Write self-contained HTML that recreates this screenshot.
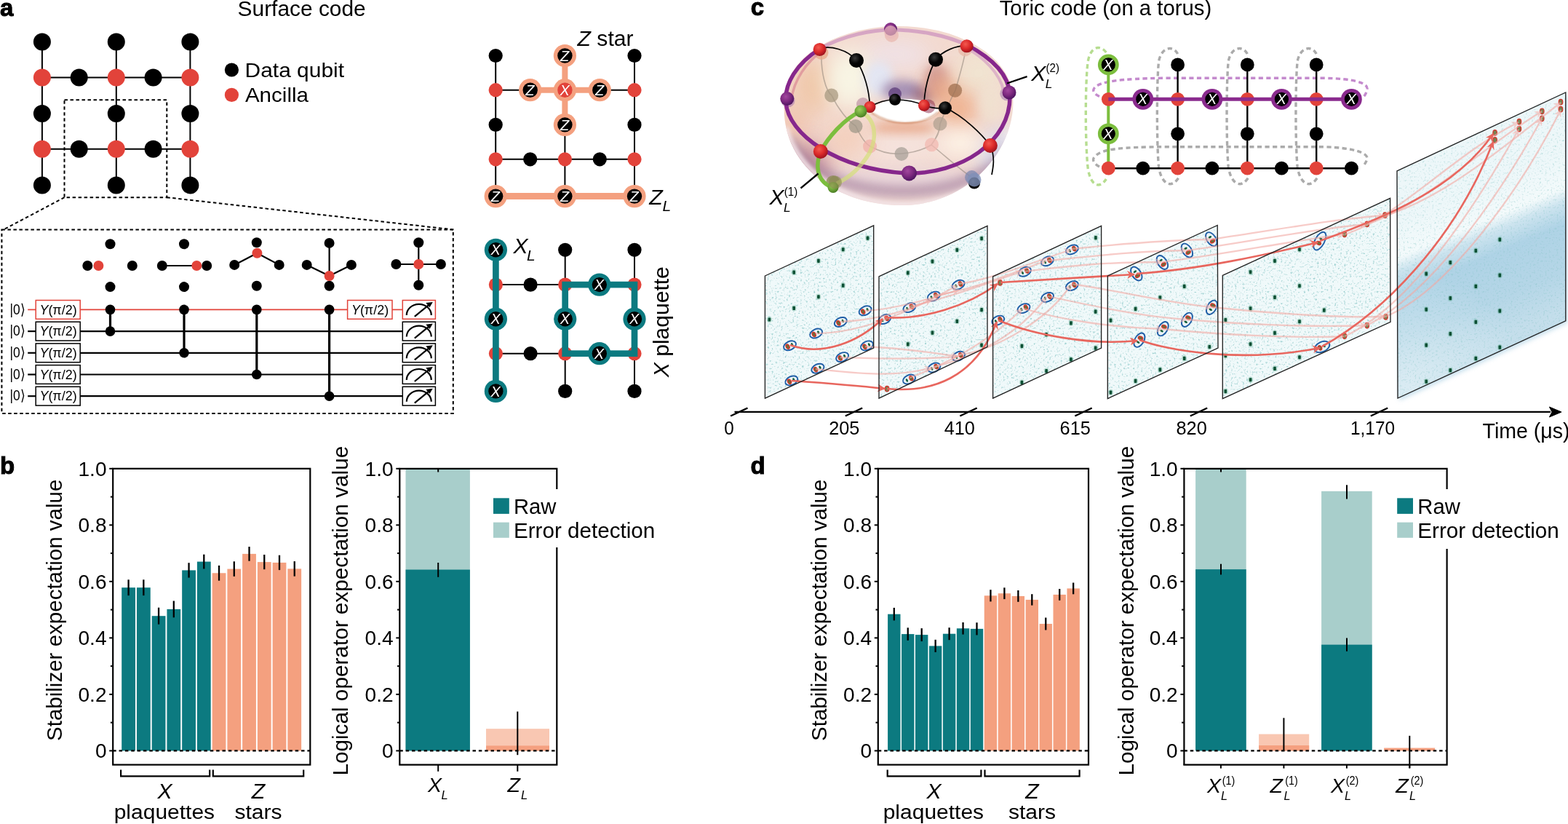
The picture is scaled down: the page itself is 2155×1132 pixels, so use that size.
<!DOCTYPE html>
<html><head><meta charset="utf-8"><title>Surface code and toric code</title>
<style>
html,body{margin:0;padding:0;background:#fff;width:2155px;height:1132px;overflow:hidden;}
svg{display:block;}
text{font-family:"Liberation Sans", Arial, Helvetica, sans-serif;}
</style></head><body>
<svg width="2155" height="1132" viewBox="0 0 2155 1132">
<rect width="2155" height="1132" fill="#fff"/>
<text x="0" y="21.5" font-size="33" font-weight="bold" stroke="#000" stroke-width="1">a</text>
<text x="326.6" y="21.8" font-size="29" textLength="176.1" lengthAdjust="spacingAndGlyphs" >Surface code</text>
<line x1="57.9" y1="57.6" x2="57.9" y2="254.4" stroke="#000" stroke-width="2" />
<line x1="159.8" y1="57.6" x2="159.8" y2="254.4" stroke="#000" stroke-width="2" />
<line x1="261.4" y1="57.6" x2="261.4" y2="254.4" stroke="#000" stroke-width="2" />
<line x1="57.9" y1="106.5" x2="261.4" y2="106.5" stroke="#000" stroke-width="2" />
<line x1="57.9" y1="204.7" x2="261.4" y2="204.7" stroke="#000" stroke-width="2" />
<circle cx="57.9" cy="57.6" r="12" fill="#000" />
<circle cx="159.8" cy="57.6" r="12" fill="#000" />
<circle cx="261.4" cy="57.6" r="12" fill="#000" />
<circle cx="57.9" cy="106.5" r="12" fill="#E2433A" />
<circle cx="108.7" cy="106.5" r="12" fill="#000" />
<circle cx="159.8" cy="106.5" r="12" fill="#E2433A" />
<circle cx="210.6" cy="106.5" r="12" fill="#000" />
<circle cx="261.4" cy="106.5" r="12" fill="#E2433A" />
<circle cx="57.9" cy="156.1" r="12" fill="#000" />
<circle cx="159.8" cy="156.1" r="12" fill="#000" />
<circle cx="261.4" cy="156.1" r="12" fill="#000" />
<circle cx="57.9" cy="204.7" r="12" fill="#E2433A" />
<circle cx="108.7" cy="204.7" r="12" fill="#000" />
<circle cx="159.8" cy="204.7" r="12" fill="#E2433A" />
<circle cx="210.6" cy="204.7" r="12" fill="#000" />
<circle cx="261.4" cy="204.7" r="12" fill="#E2433A" />
<circle cx="57.9" cy="254.4" r="12" fill="#000" />
<circle cx="159.8" cy="254.4" r="12" fill="#000" />
<circle cx="261.4" cy="254.4" r="12" fill="#000" />
<circle cx="318.4" cy="96" r="9.6" fill="#000" />
<text x="336.6" y="105.5" font-size="28.5" textLength="136.4" lengthAdjust="spacingAndGlyphs" >Data qubit</text>
<circle cx="318.4" cy="130.4" r="9.6" fill="#E2433A" />
<text x="336.9" y="139.7" font-size="28.5" textLength="87.1" lengthAdjust="spacingAndGlyphs" >Ancilla</text>
<rect x="88.5" y="137.2" width="140.8" height="134" fill="none" stroke="#000" stroke-width="2" stroke-dasharray="4.5 3.5"/>
<line x1="88.5" y1="271.2" x2="5" y2="315.4" stroke="#000" stroke-width="2" stroke-dasharray="4.5 3.5"/>
<line x1="229.3" y1="271.2" x2="622.8" y2="315.4" stroke="#000" stroke-width="2" stroke-dasharray="4.5 3.5"/>
<rect x="2.4" y="315.4" width="620.4" height="252.5" fill="none" stroke="#000" stroke-width="2" stroke-dasharray="4.5 3.5"/>
<text x="13.6" y="431.6" font-size="20" textLength="21.2" lengthAdjust="spacingAndGlyphs" >|0⟩</text>
<line x1="38.2" y1="425.4" x2="49.2" y2="425.4" stroke="#E2433A" stroke-width="1.7" />
<rect x="49.2" y="412.5" width="61" height="25.8" fill="#fff" stroke="#E2433A" stroke-width="1.5"/>
<text x="54.4" y="431.5" font-size="19" textLength="51.3" lengthAdjust="spacingAndGlyphs"><tspan font-style="italic">Y</tspan>(π/2)</text>
<line x1="110.2" y1="425.4" x2="477.6" y2="425.4" stroke="#E2433A" stroke-width="1.7" />
<rect x="477.6" y="412.5" width="61.4" height="25.8" fill="#fff" stroke="#E2433A" stroke-width="1.5"/>
<text x="482.9" y="431.5" font-size="19" textLength="51.3" lengthAdjust="spacingAndGlyphs"><tspan font-style="italic">Y</tspan>(π/2)</text>
<line x1="539" y1="425.4" x2="553.3" y2="425.4" stroke="#E2433A" stroke-width="1.7" />
<rect x="553.3" y="412.5" width="45.1" height="25.8" fill="#fff" stroke="#E2433A" stroke-width="1.5"/>
<path d="M558.8 432.9 A17 15 0 0 1 592.8 432.9" fill="none" stroke="#000" stroke-width="2.2"/>
<path d="M569.8 434.9 L591.8 416.9" stroke="#000" stroke-width="2.2"/>
<path d="M594.8 414.9 l-9.5 1.2 l5.2 6.2 z" fill="#000"/>
<text x="13.6" y="461.3" font-size="20" textLength="21.2" lengthAdjust="spacingAndGlyphs" >|0⟩</text>
<line x1="38.2" y1="455.1" x2="49.2" y2="455.1" stroke="#000" stroke-width="2.2" />
<rect x="49.2" y="442.2" width="61" height="25.8" fill="#fff" stroke="#000" stroke-width="1.5"/>
<text x="54.4" y="461.2" font-size="19" textLength="51.3" lengthAdjust="spacingAndGlyphs"><tspan font-style="italic">Y</tspan>(π/2)</text>
<line x1="110.2" y1="455.1" x2="553.3" y2="455.1" stroke="#000" stroke-width="2.2" />
<rect x="553.3" y="442.2" width="45.1" height="25.8" fill="#fff" stroke="#000" stroke-width="1.5"/>
<path d="M558.8 462.6 A17 15 0 0 1 592.8 462.6" fill="none" stroke="#000" stroke-width="2.2"/>
<path d="M569.8 464.6 L591.8 446.6" stroke="#000" stroke-width="2.2"/>
<path d="M594.8 444.6 l-9.5 1.2 l5.2 6.2 z" fill="#000"/>
<text x="13.6" y="491" font-size="20" textLength="21.2" lengthAdjust="spacingAndGlyphs" >|0⟩</text>
<line x1="38.2" y1="484.8" x2="49.2" y2="484.8" stroke="#000" stroke-width="2.2" />
<rect x="49.2" y="471.9" width="61" height="25.8" fill="#fff" stroke="#000" stroke-width="1.5"/>
<text x="54.4" y="490.9" font-size="19" textLength="51.3" lengthAdjust="spacingAndGlyphs"><tspan font-style="italic">Y</tspan>(π/2)</text>
<line x1="110.2" y1="484.8" x2="553.3" y2="484.8" stroke="#000" stroke-width="2.2" />
<rect x="553.3" y="471.9" width="45.1" height="25.8" fill="#fff" stroke="#000" stroke-width="1.5"/>
<path d="M558.8 492.3 A17 15 0 0 1 592.8 492.3" fill="none" stroke="#000" stroke-width="2.2"/>
<path d="M569.8 494.3 L591.8 476.3" stroke="#000" stroke-width="2.2"/>
<path d="M594.8 474.3 l-9.5 1.2 l5.2 6.2 z" fill="#000"/>
<text x="13.6" y="520.7" font-size="20" textLength="21.2" lengthAdjust="spacingAndGlyphs" >|0⟩</text>
<line x1="38.2" y1="514.5" x2="49.2" y2="514.5" stroke="#000" stroke-width="2.2" />
<rect x="49.2" y="501.6" width="61" height="25.8" fill="#fff" stroke="#000" stroke-width="1.5"/>
<text x="54.4" y="520.6" font-size="19" textLength="51.3" lengthAdjust="spacingAndGlyphs"><tspan font-style="italic">Y</tspan>(π/2)</text>
<line x1="110.2" y1="514.5" x2="553.3" y2="514.5" stroke="#000" stroke-width="2.2" />
<rect x="553.3" y="501.6" width="45.1" height="25.8" fill="#fff" stroke="#000" stroke-width="1.5"/>
<path d="M558.8 522 A17 15 0 0 1 592.8 522" fill="none" stroke="#000" stroke-width="2.2"/>
<path d="M569.8 524 L591.8 506" stroke="#000" stroke-width="2.2"/>
<path d="M594.8 504 l-9.5 1.2 l5.2 6.2 z" fill="#000"/>
<text x="13.6" y="550.4" font-size="20" textLength="21.2" lengthAdjust="spacingAndGlyphs" >|0⟩</text>
<line x1="38.2" y1="544.2" x2="49.2" y2="544.2" stroke="#000" stroke-width="2.2" />
<rect x="49.2" y="531.3" width="61" height="25.8" fill="#fff" stroke="#000" stroke-width="1.5"/>
<text x="54.4" y="550.3" font-size="19" textLength="51.3" lengthAdjust="spacingAndGlyphs"><tspan font-style="italic">Y</tspan>(π/2)</text>
<line x1="110.2" y1="544.2" x2="553.3" y2="544.2" stroke="#000" stroke-width="2.2" />
<rect x="553.3" y="531.3" width="45.1" height="25.8" fill="#fff" stroke="#000" stroke-width="1.5"/>
<path d="M558.8 551.7 A17 15 0 0 1 592.8 551.7" fill="none" stroke="#000" stroke-width="2.2"/>
<path d="M569.8 553.7 L591.8 535.7" stroke="#000" stroke-width="2.2"/>
<path d="M594.8 533.7 l-9.5 1.2 l5.2 6.2 z" fill="#000"/>
<line x1="151.5" y1="425.4" x2="151.5" y2="455.1" stroke="#000" stroke-width="3.2" />
<circle cx="151.5" cy="425.4" r="6.8" fill="#000" />
<circle cx="151.5" cy="455.1" r="6.8" fill="#000" />
<line x1="253" y1="425.4" x2="253" y2="484.8" stroke="#000" stroke-width="3.2" />
<circle cx="253" cy="425.4" r="6.8" fill="#000" />
<circle cx="253" cy="484.8" r="6.8" fill="#000" />
<line x1="352.8" y1="425.4" x2="352.8" y2="514.5" stroke="#000" stroke-width="3.2" />
<circle cx="352.8" cy="425.4" r="6.8" fill="#000" />
<circle cx="352.8" cy="514.5" r="6.8" fill="#000" />
<line x1="452.6" y1="425.4" x2="452.6" y2="544.2" stroke="#000" stroke-width="3.2" />
<circle cx="452.6" cy="425.4" r="6.8" fill="#000" />
<circle cx="452.6" cy="544.2" r="6.8" fill="#000" />
<circle cx="151.5" cy="335.3" r="7" fill="#000" />
<circle cx="120.3" cy="365" r="7" fill="#000" />
<circle cx="181.8" cy="365" r="7" fill="#000" />
<circle cx="151.5" cy="394.1" r="7" fill="#000" />
<circle cx="135.4" cy="365" r="7" fill="#E2433A" />
<line x1="222.8" y1="365" x2="270.3" y2="365" stroke="#000" stroke-width="2.2" />
<circle cx="253" cy="335.3" r="7" fill="#000" />
<circle cx="222.8" cy="365" r="7" fill="#000" />
<circle cx="284.2" cy="365" r="7" fill="#000" />
<circle cx="253" cy="394.1" r="7" fill="#000" />
<circle cx="270.3" cy="365" r="7" fill="#E2433A" />
<line x1="322.2" y1="363.9" x2="353.4" y2="347.8" stroke="#000" stroke-width="2.2" />
<line x1="383.7" y1="363.9" x2="353.4" y2="347.8" stroke="#000" stroke-width="2.2" />
<circle cx="352.8" cy="333.3" r="7" fill="#000" />
<circle cx="322.2" cy="363.9" r="7" fill="#000" />
<circle cx="383.7" cy="363.9" r="7" fill="#000" />
<circle cx="352.8" cy="392.7" r="7" fill="#000" />
<circle cx="353.4" cy="347.8" r="7" fill="#E2433A" />
<line x1="452.6" y1="333.9" x2="452.6" y2="379" stroke="#000" stroke-width="2.2" />
<line x1="421.7" y1="363.9" x2="452.6" y2="379" stroke="#000" stroke-width="2.2" />
<line x1="482.9" y1="363.9" x2="452.6" y2="379" stroke="#000" stroke-width="2.2" />
<circle cx="452.6" cy="333.9" r="7" fill="#000" />
<circle cx="421.7" cy="363.9" r="7" fill="#000" />
<circle cx="482.9" cy="363.9" r="7" fill="#000" />
<circle cx="452.6" cy="392.7" r="7" fill="#000" />
<circle cx="452.6" cy="379" r="7" fill="#E2433A" />
<line x1="544.4" y1="363" x2="605.9" y2="363" stroke="#000" stroke-width="2.2" />
<line x1="575.3" y1="333.3" x2="575.3" y2="391.8" stroke="#000" stroke-width="2.2" />
<circle cx="575.3" cy="333.3" r="7" fill="#000" />
<circle cx="544.4" cy="363" r="7" fill="#000" />
<circle cx="605.9" cy="363" r="7" fill="#000" />
<circle cx="575.3" cy="391.8" r="7" fill="#000" />
<circle cx="575.3" cy="363" r="7" fill="#E2433A" />
<line x1="681.2" y1="76.5" x2="681.2" y2="269.6" stroke="#000" stroke-width="2" />
<line x1="776.4" y1="76.5" x2="776.4" y2="269.6" stroke="#000" stroke-width="2" />
<line x1="872" y1="76.5" x2="872" y2="269.6" stroke="#000" stroke-width="2" />
<line x1="681.2" y1="123.7" x2="872" y2="123.7" stroke="#000" stroke-width="2" />
<line x1="681.2" y1="218.8" x2="872" y2="218.8" stroke="#000" stroke-width="2" />
<line x1="776.4" y1="76.5" x2="776.4" y2="171.4" stroke="#F4A07F" stroke-width="8" />
<line x1="728.7" y1="123.7" x2="824.3" y2="123.7" stroke="#F4A07F" stroke-width="8" />
<line x1="681.2" y1="269.6" x2="872" y2="269.6" stroke="#F4A07F" stroke-width="9" />
<circle cx="681.2" cy="76.5" r="9.6" fill="#000" />
<circle cx="681.2" cy="123.7" r="9.6" fill="#E2433A" />
<circle cx="681.2" cy="171.4" r="9.6" fill="#000" />
<circle cx="681.2" cy="218.8" r="9.6" fill="#E2433A" />
<circle cx="872" cy="76.5" r="9.6" fill="#000" />
<circle cx="872" cy="123.7" r="9.6" fill="#E2433A" />
<circle cx="872" cy="171.4" r="9.6" fill="#000" />
<circle cx="872" cy="218.8" r="9.6" fill="#E2433A" />
<circle cx="728.7" cy="218.8" r="9.6" fill="#000" />
<circle cx="824.3" cy="218.8" r="9.6" fill="#000" />
<circle cx="776.4" cy="218.8" r="9.6" fill="#E2433A" />
<circle cx="776.4" cy="76.5" r="15.6" fill="#F4A07F" /><circle cx="776.4" cy="76.5" r="10.2" fill="#000" /><text x="776.1" y="83.6" font-size="20" text-anchor="middle" font-style="italic" fill="#fff" font-weight="300">Z</text>
<circle cx="728.7" cy="123.7" r="15.6" fill="#F4A07F" /><circle cx="728.7" cy="123.7" r="10.2" fill="#000" /><text x="728.4" y="130.8" font-size="20" text-anchor="middle" font-style="italic" fill="#fff" font-weight="300">Z</text>
<circle cx="824.3" cy="123.7" r="15.6" fill="#F4A07F" /><circle cx="824.3" cy="123.7" r="10.2" fill="#000" /><text x="824" y="130.8" font-size="20" text-anchor="middle" font-style="italic" fill="#fff" font-weight="300">Z</text>
<circle cx="776.4" cy="171.4" r="15.6" fill="#F4A07F" /><circle cx="776.4" cy="171.4" r="10.2" fill="#000" /><text x="776.1" y="178.5" font-size="20" text-anchor="middle" font-style="italic" fill="#fff" font-weight="300">Z</text>
<circle cx="776.4" cy="123.7" r="15.6" fill="#F4A07F" /><circle cx="776.4" cy="123.7" r="10.2" fill="#E2433A" /><text x="776.1" y="130.8" font-size="20" text-anchor="middle" font-style="italic" fill="#fff" font-weight="300">X</text>
<circle cx="681.2" cy="269.6" r="15.6" fill="#F4A07F" /><circle cx="681.2" cy="269.6" r="10.2" fill="#000" /><text x="680.9" y="276.7" font-size="20" text-anchor="middle" font-style="italic" fill="#fff" font-weight="300">Z</text>
<circle cx="776.4" cy="269.6" r="15.6" fill="#F4A07F" /><circle cx="776.4" cy="269.6" r="10.2" fill="#000" /><text x="776.1" y="276.7" font-size="20" text-anchor="middle" font-style="italic" fill="#fff" font-weight="300">Z</text>
<circle cx="872" cy="269.6" r="15.6" fill="#F4A07F" /><circle cx="872" cy="269.6" r="10.2" fill="#000" /><text x="871.7" y="276.7" font-size="20" text-anchor="middle" font-style="italic" fill="#fff" font-weight="300">Z</text>
<text x="793.6" y="63" font-size="29" textLength="77" lengthAdjust="spacingAndGlyphs"><tspan font-style="italic">Z</tspan> star</text>
<text x="892.3" y="280.6" font-size="30.3" font-style="italic">Z</text>
<text x="910.6" y="290" font-size="21" font-style="italic">L</text>
<line x1="776.7" y1="343.3" x2="776.7" y2="537.4" stroke="#000" stroke-width="2" />
<line x1="872" y1="343.3" x2="872" y2="537.4" stroke="#000" stroke-width="2" />
<line x1="681.4" y1="391.1" x2="872" y2="391.1" stroke="#000" stroke-width="2" />
<line x1="681.4" y1="485.7" x2="872" y2="485.7" stroke="#000" stroke-width="2" />
<circle cx="681.4" cy="391.1" r="9.6" fill="#E2433A" />
<circle cx="681.4" cy="485.7" r="9.6" fill="#E2433A" />
<circle cx="729.1" cy="391.1" r="9.6" fill="#000" />
<circle cx="776.7" cy="391.1" r="9.6" fill="#E2433A" />
<circle cx="872" cy="391.1" r="9.6" fill="#E2433A" />
<circle cx="729.1" cy="485.7" r="9.6" fill="#000" />
<circle cx="776.7" cy="485.7" r="9.6" fill="#E2433A" />
<circle cx="872" cy="485.7" r="9.6" fill="#E2433A" />
<circle cx="776.7" cy="343.3" r="9.6" fill="#000" />
<circle cx="872" cy="343.3" r="9.6" fill="#000" />
<circle cx="776.7" cy="537.4" r="9.6" fill="#000" />
<circle cx="872" cy="537.4" r="9.6" fill="#000" />
<line x1="681.4" y1="343.3" x2="681.4" y2="537.4" stroke="#0C7A80" stroke-width="8.7" />
<rect x="776.7" y="391.1" width="95.3" height="94.6" fill="none" stroke="#0C7A80" stroke-width="8.7"/>
<circle cx="681.4" cy="343.3" r="15.6" fill="#0C7A80" /><circle cx="681.4" cy="343.3" r="10.2" fill="#000" /><text x="681.1" y="350.4" font-size="20" text-anchor="middle" font-style="italic" fill="#fff" font-weight="300">X</text>
<circle cx="681.4" cy="438.2" r="15.6" fill="#0C7A80" /><circle cx="681.4" cy="438.2" r="10.2" fill="#000" /><text x="681.1" y="445.3" font-size="20" text-anchor="middle" font-style="italic" fill="#fff" font-weight="300">X</text>
<circle cx="681.4" cy="537.4" r="15.6" fill="#0C7A80" /><circle cx="681.4" cy="537.4" r="10.2" fill="#000" /><text x="681.1" y="544.5" font-size="20" text-anchor="middle" font-style="italic" fill="#fff" font-weight="300">X</text>
<circle cx="776.7" cy="438.2" r="15.6" fill="#0C7A80" /><circle cx="776.7" cy="438.2" r="10.2" fill="#000" /><text x="776.4" y="445.3" font-size="20" text-anchor="middle" font-style="italic" fill="#fff" font-weight="300">X</text>
<circle cx="872" cy="438.2" r="15.6" fill="#0C7A80" /><circle cx="872" cy="438.2" r="10.2" fill="#000" /><text x="871.7" y="445.3" font-size="20" text-anchor="middle" font-style="italic" fill="#fff" font-weight="300">X</text>
<circle cx="823.8" cy="391.1" r="15.6" fill="#0C7A80" /><circle cx="823.8" cy="391.1" r="10.2" fill="#000" /><text x="823.5" y="398.2" font-size="20" text-anchor="middle" font-style="italic" fill="#fff" font-weight="300">X</text>
<circle cx="823.8" cy="485.7" r="15.6" fill="#0C7A80" /><circle cx="823.8" cy="485.7" r="10.2" fill="#000" /><text x="823.5" y="492.8" font-size="20" text-anchor="middle" font-style="italic" fill="#fff" font-weight="300">X</text>
<text x="705.6" y="347.8" font-size="30" font-style="italic">X</text>
<text x="723.9" y="357.8" font-size="21" font-style="italic">L</text>
<text transform="translate(919.3 518.2) rotate(-90)" font-size="29" textLength="152" lengthAdjust="spacingAndGlyphs"><tspan font-style="italic">X</tspan> plaquette</text>
<text x="0" y="650.6" font-size="33" font-weight="bold" stroke="#000" stroke-width="1">b</text>
<text x="1031.5" y="650.6" font-size="33" font-weight="bold" stroke="#000" stroke-width="1">d</text>
<rect x="167.2" y="807.21" width="18.8" height="224.19" fill="#0C7A80"/>
<rect x="187.94" y="807.21" width="18.8" height="224.19" fill="#0C7A80"/>
<rect x="208.68" y="846.2" width="18.8" height="185.2" fill="#0C7A80"/>
<rect x="229.42" y="836.9" width="18.8" height="194.5" fill="#0C7A80"/>
<rect x="250.16" y="783.41" width="18.8" height="247.99" fill="#0C7A80"/>
<rect x="270.9" y="771.59" width="18.8" height="259.81" fill="#0C7A80"/>
<rect x="291.64" y="787.29" width="18.8" height="244.11" fill="#F4A07F"/>
<rect x="312.38" y="781.59" width="18.8" height="249.81" fill="#F4A07F"/>
<rect x="333.12" y="760.89" width="18.8" height="270.51" fill="#F4A07F"/>
<rect x="353.86" y="772.1" width="18.8" height="259.3" fill="#F4A07F"/>
<rect x="374.6" y="772.91" width="18.8" height="258.49" fill="#F4A07F"/>
<rect x="395.34" y="781.4" width="18.8" height="250" fill="#F4A07F"/>
<line x1="155.2" y1="1031.4" x2="426.3" y2="1031.4" stroke="#000" stroke-width="2.4" stroke-dasharray="4.5 3.85"/>
<line x1="176.6" y1="796.31" x2="176.6" y2="818.11" stroke="#000" stroke-width="2.3" />
<line x1="197.34" y1="796.31" x2="197.34" y2="818.11" stroke="#000" stroke-width="2.3" />
<line x1="218.08" y1="834.7" x2="218.08" y2="857.7" stroke="#000" stroke-width="2.3" />
<line x1="238.82" y1="825.5" x2="238.82" y2="848.3" stroke="#000" stroke-width="2.3" />
<line x1="259.56" y1="773.21" x2="259.56" y2="793.61" stroke="#000" stroke-width="2.3" />
<line x1="280.3" y1="761.69" x2="280.3" y2="781.49" stroke="#000" stroke-width="2.3" />
<line x1="301.04" y1="776.89" x2="301.04" y2="797.69" stroke="#000" stroke-width="2.3" />
<line x1="321.78" y1="771.29" x2="321.78" y2="791.89" stroke="#000" stroke-width="2.3" />
<line x1="342.52" y1="751.09" x2="342.52" y2="770.69" stroke="#000" stroke-width="2.3" />
<line x1="363.26" y1="762" x2="363.26" y2="782.2" stroke="#000" stroke-width="2.3" />
<line x1="384" y1="762.71" x2="384" y2="783.11" stroke="#000" stroke-width="2.3" />
<line x1="404.74" y1="771.1" x2="404.74" y2="791.7" stroke="#000" stroke-width="2.3" />
<rect x="155.2" y="643.8" width="271.1" height="406.8" fill="none" stroke="#000" stroke-width="2.2"/>
<line x1="150.2" y1="1031.4" x2="155.2" y2="1031.4" stroke="#000" stroke-width="2" />
<line x1="151.9" y1="992.64" x2="155.2" y2="992.64" stroke="#000" stroke-width="2" />
<line x1="150.2" y1="953.88" x2="155.2" y2="953.88" stroke="#000" stroke-width="2" />
<line x1="151.9" y1="915.12" x2="155.2" y2="915.12" stroke="#000" stroke-width="2" />
<line x1="150.2" y1="876.36" x2="155.2" y2="876.36" stroke="#000" stroke-width="2" />
<line x1="151.9" y1="837.6" x2="155.2" y2="837.6" stroke="#000" stroke-width="2" />
<line x1="150.2" y1="798.84" x2="155.2" y2="798.84" stroke="#000" stroke-width="2" />
<line x1="151.9" y1="760.08" x2="155.2" y2="760.08" stroke="#000" stroke-width="2" />
<line x1="150.2" y1="721.32" x2="155.2" y2="721.32" stroke="#000" stroke-width="2" />
<line x1="151.9" y1="682.56" x2="155.2" y2="682.56" stroke="#000" stroke-width="2" />
<line x1="150.2" y1="643.8" x2="155.2" y2="643.8" stroke="#000" stroke-width="2" />
<text x="146.5" y="1041.3" font-size="28" text-anchor="end" >0</text>
<text x="146.5" y="963.78" font-size="28" text-anchor="end" textLength="39" lengthAdjust="spacingAndGlyphs" >0.2</text>
<text x="146.5" y="886.26" font-size="28" text-anchor="end" textLength="39" lengthAdjust="spacingAndGlyphs" >0.4</text>
<text x="146.5" y="808.74" font-size="28" text-anchor="end" textLength="39" lengthAdjust="spacingAndGlyphs" >0.6</text>
<text x="146.5" y="731.22" font-size="28" text-anchor="end" textLength="39" lengthAdjust="spacingAndGlyphs" >0.8</text>
<text x="146.5" y="653.7" font-size="28" text-anchor="end" textLength="39" lengthAdjust="spacingAndGlyphs" >1.0</text>
<path d="M166.1 1057.5 V1066.3 H288.2 V1057.5" fill="none" stroke="#000" stroke-width="2.2"/>
<path d="M292.8 1057.5 V1066.3 H417.2 V1057.5" fill="none" stroke="#000" stroke-width="2.2"/>
<text x="226.5" y="1096.6" font-size="30.2" text-anchor="middle" font-style="italic" >X</text>
<text x="225.9" y="1125.4" font-size="28.2" text-anchor="middle" textLength="138.4" lengthAdjust="spacingAndGlyphs" >plaquettes</text>
<text x="355" y="1096.6" font-size="30.2" text-anchor="middle" font-style="italic" >Z</text>
<text x="355" y="1125.4" font-size="28.2" text-anchor="middle" textLength="65.2" lengthAdjust="spacingAndGlyphs" >stars</text>
<text transform="translate(84.5 658.6) rotate(-90)" font-size="29.2" text-anchor="end" textLength="359.4" lengthAdjust="spacingAndGlyphs">Stabilizer expectation value</text>
<rect x="1220.1" y="843.69" width="17.4" height="187.71" fill="#0C7A80"/>
<rect x="1239.05" y="871.09" width="17.4" height="160.31" fill="#0C7A80"/>
<rect x="1258" y="872.1" width="17.4" height="159.3" fill="#0C7A80"/>
<rect x="1276.95" y="887.41" width="17.4" height="143.99" fill="#0C7A80"/>
<rect x="1295.9" y="870.7" width="17.4" height="160.7" fill="#0C7A80"/>
<rect x="1314.85" y="863.3" width="17.4" height="168.1" fill="#0C7A80"/>
<rect x="1333.8" y="863.88" width="17.4" height="167.52" fill="#0C7A80"/>
<rect x="1352.75" y="818.3" width="17.4" height="213.1" fill="#F4A07F"/>
<rect x="1371.7" y="815.2" width="17.4" height="216.2" fill="#F4A07F"/>
<rect x="1390.65" y="818.92" width="17.4" height="212.48" fill="#F4A07F"/>
<rect x="1409.6" y="823.92" width="17.4" height="207.48" fill="#F4A07F"/>
<rect x="1428.55" y="857.02" width="17.4" height="174.38" fill="#F4A07F"/>
<rect x="1447.5" y="816.9" width="17.4" height="214.5" fill="#F4A07F"/>
<rect x="1466.45" y="808.41" width="17.4" height="222.99" fill="#F4A07F"/>
<line x1="1206.8" y1="1031.4" x2="1496" y2="1031.4" stroke="#000" stroke-width="2.4" stroke-dasharray="4.5 3.85"/>
<line x1="1228.8" y1="834.94" x2="1228.8" y2="852.44" stroke="#000" stroke-width="2.3" />
<line x1="1247.75" y1="862.34" x2="1247.75" y2="879.84" stroke="#000" stroke-width="2.3" />
<line x1="1266.7" y1="863.15" x2="1266.7" y2="881.05" stroke="#000" stroke-width="2.3" />
<line x1="1285.65" y1="878.81" x2="1285.65" y2="896.01" stroke="#000" stroke-width="2.3" />
<line x1="1304.6" y1="862.2" x2="1304.6" y2="879.2" stroke="#000" stroke-width="2.3" />
<line x1="1323.55" y1="855" x2="1323.55" y2="871.6" stroke="#000" stroke-width="2.3" />
<line x1="1342.5" y1="855.28" x2="1342.5" y2="872.48" stroke="#000" stroke-width="2.3" />
<line x1="1361.45" y1="810.2" x2="1361.45" y2="826.4" stroke="#000" stroke-width="2.3" />
<line x1="1380.4" y1="807.3" x2="1380.4" y2="823.1" stroke="#000" stroke-width="2.3" />
<line x1="1399.35" y1="811.02" x2="1399.35" y2="826.82" stroke="#000" stroke-width="2.3" />
<line x1="1418.3" y1="816.22" x2="1418.3" y2="831.62" stroke="#000" stroke-width="2.3" />
<line x1="1437.25" y1="848.52" x2="1437.25" y2="865.52" stroke="#000" stroke-width="2.3" />
<line x1="1456.2" y1="809" x2="1456.2" y2="824.8" stroke="#000" stroke-width="2.3" />
<line x1="1475.15" y1="800.51" x2="1475.15" y2="816.31" stroke="#000" stroke-width="2.3" />
<rect x="1206.8" y="643.8" width="289.2" height="406.8" fill="none" stroke="#000" stroke-width="2.2"/>
<line x1="1201.8" y1="1031.4" x2="1206.8" y2="1031.4" stroke="#000" stroke-width="2" />
<line x1="1203.5" y1="992.64" x2="1206.8" y2="992.64" stroke="#000" stroke-width="2" />
<line x1="1201.8" y1="953.88" x2="1206.8" y2="953.88" stroke="#000" stroke-width="2" />
<line x1="1203.5" y1="915.12" x2="1206.8" y2="915.12" stroke="#000" stroke-width="2" />
<line x1="1201.8" y1="876.36" x2="1206.8" y2="876.36" stroke="#000" stroke-width="2" />
<line x1="1203.5" y1="837.6" x2="1206.8" y2="837.6" stroke="#000" stroke-width="2" />
<line x1="1201.8" y1="798.84" x2="1206.8" y2="798.84" stroke="#000" stroke-width="2" />
<line x1="1203.5" y1="760.08" x2="1206.8" y2="760.08" stroke="#000" stroke-width="2" />
<line x1="1201.8" y1="721.32" x2="1206.8" y2="721.32" stroke="#000" stroke-width="2" />
<line x1="1203.5" y1="682.56" x2="1206.8" y2="682.56" stroke="#000" stroke-width="2" />
<line x1="1201.8" y1="643.8" x2="1206.8" y2="643.8" stroke="#000" stroke-width="2" />
<text x="1198.1" y="1041.3" font-size="28" text-anchor="end" >0</text>
<text x="1198.1" y="963.78" font-size="28" text-anchor="end" textLength="39" lengthAdjust="spacingAndGlyphs" >0.2</text>
<text x="1198.1" y="886.26" font-size="28" text-anchor="end" textLength="39" lengthAdjust="spacingAndGlyphs" >0.4</text>
<text x="1198.1" y="808.74" font-size="28" text-anchor="end" textLength="39" lengthAdjust="spacingAndGlyphs" >0.6</text>
<text x="1198.1" y="731.22" font-size="28" text-anchor="end" textLength="39" lengthAdjust="spacingAndGlyphs" >0.8</text>
<text x="1198.1" y="653.7" font-size="28" text-anchor="end" textLength="39" lengthAdjust="spacingAndGlyphs" >1.0</text>
<path d="M1219.7 1057.5 V1066.3 H1348.4 V1057.5" fill="none" stroke="#000" stroke-width="2.2"/>
<path d="M1353.5 1057.5 V1066.3 H1483.6 V1057.5" fill="none" stroke="#000" stroke-width="2.2"/>
<text x="1283.5" y="1096.6" font-size="30.2" text-anchor="middle" font-style="italic" >X</text>
<text x="1282.9" y="1125.4" font-size="28.2" text-anchor="middle" textLength="138.4" lengthAdjust="spacingAndGlyphs" >plaquettes</text>
<text x="1418.5" y="1096.6" font-size="30.2" text-anchor="middle" font-style="italic" >Z</text>
<text x="1418.5" y="1125.4" font-size="28.2" text-anchor="middle" textLength="65.2" lengthAdjust="spacingAndGlyphs" >stars</text>
<text transform="translate(1136 658.6) rotate(-90)" font-size="29.2" text-anchor="end" textLength="359.4" lengthAdjust="spacingAndGlyphs">Stabilizer expectation value</text>
<rect x="557.5" y="643.8" width="88.4" height="387.6" fill="#A8CECB"/>
<rect x="557.5" y="782.56" width="88.4" height="248.84" fill="#0C7A80"/>
<rect x="668" y="1001.17" width="87" height="30.23" fill="#F9C7B2"/>
<rect x="668" y="1024.42" width="87" height="6.98" fill="#F5A080"/>
<line x1="549.3" y1="1031.4" x2="765.3" y2="1031.4" stroke="#000" stroke-width="2.4" stroke-dasharray="4.5 3.85"/>
<line x1="602.2" y1="773" x2="602.2" y2="792.8" stroke="#000" stroke-width="2" />
<line x1="602.2" y1="643.8" x2="602.2" y2="648.5" stroke="#000" stroke-width="2" />
<line x1="711.3" y1="977.5" x2="711.3" y2="1037.2" stroke="#000" stroke-width="2" />
<path d="M549.3 643.8 H765.3 V672.9 M765.3 752.8 V1050.6 H549.3" fill="none" stroke="#000" stroke-width="2.2" stroke-linejoin="miter" stroke-linecap="square"/>
<line x1="549.3" y1="643.8" x2="549.3" y2="1050.6" stroke="#000" stroke-width="2.2" />
<line x1="544.3" y1="1031.4" x2="549.3" y2="1031.4" stroke="#000" stroke-width="2" />
<line x1="546" y1="992.64" x2="549.3" y2="992.64" stroke="#000" stroke-width="2" />
<line x1="544.3" y1="953.88" x2="549.3" y2="953.88" stroke="#000" stroke-width="2" />
<line x1="546" y1="915.12" x2="549.3" y2="915.12" stroke="#000" stroke-width="2" />
<line x1="544.3" y1="876.36" x2="549.3" y2="876.36" stroke="#000" stroke-width="2" />
<line x1="546" y1="837.6" x2="549.3" y2="837.6" stroke="#000" stroke-width="2" />
<line x1="544.3" y1="798.84" x2="549.3" y2="798.84" stroke="#000" stroke-width="2" />
<line x1="546" y1="760.08" x2="549.3" y2="760.08" stroke="#000" stroke-width="2" />
<line x1="544.3" y1="721.32" x2="549.3" y2="721.32" stroke="#000" stroke-width="2" />
<line x1="546" y1="682.56" x2="549.3" y2="682.56" stroke="#000" stroke-width="2" />
<line x1="544.3" y1="643.8" x2="549.3" y2="643.8" stroke="#000" stroke-width="2" />
<text x="540.6" y="1041.3" font-size="28" text-anchor="end" >0</text>
<text x="540.6" y="963.78" font-size="28" text-anchor="end" textLength="39" lengthAdjust="spacingAndGlyphs" >0.2</text>
<text x="540.6" y="886.26" font-size="28" text-anchor="end" textLength="39" lengthAdjust="spacingAndGlyphs" >0.4</text>
<text x="540.6" y="808.74" font-size="28" text-anchor="end" textLength="39" lengthAdjust="spacingAndGlyphs" >0.6</text>
<text x="540.6" y="731.22" font-size="28" text-anchor="end" textLength="39" lengthAdjust="spacingAndGlyphs" >0.8</text>
<text x="540.6" y="653.7" font-size="28" text-anchor="end" textLength="39" lengthAdjust="spacingAndGlyphs" >1.0</text>
<line x1="602.2" y1="1050.6" x2="602.2" y2="1059.8" stroke="#000" stroke-width="2" />
<line x1="711.3" y1="1050.6" x2="711.3" y2="1059.8" stroke="#000" stroke-width="2" />
<rect x="674.8" y="672" width="228.2" height="80" fill="#fff"/>
<rect x="678" y="684.3" width="21.8" height="21.6" fill="#0C7A80"/>
<rect x="678" y="717.6" width="21.8" height="21.2" fill="#A8CECB"/>
<text x="705.9" y="705.9" font-size="29.5" textLength="58.5" lengthAdjust="spacingAndGlyphs" >Raw</text>
<text x="705.9" y="738.6" font-size="29.5" textLength="194.4" lengthAdjust="spacingAndGlyphs" >Error detection</text>
<text x="587.9" y="1088.4" font-size="28.5" font-style="italic">X</text>
<text x="606.4" y="1098.1" font-size="16.5" font-style="italic">L</text>
<text x="697.4" y="1088.4" font-size="28.5" font-style="italic">Z</text>
<text x="715.9" y="1098.1" font-size="16.5" font-style="italic">L</text>
<text transform="translate(477.7 612.8) rotate(-90)" font-size="29.2" text-anchor="end" textLength="452.8" lengthAdjust="spacingAndGlyphs">Logical operator expectation value</text>
<rect x="1643.1" y="643.8" width="69.6" height="387.6" fill="#A8CECB"/>
<rect x="1643.1" y="782.17" width="69.6" height="249.23" fill="#0C7A80"/>
<rect x="1730.1" y="1008.53" width="69.1" height="22.87" fill="#F9C7B2"/>
<rect x="1730.1" y="1024.04" width="69.1" height="7.36" fill="#F5A080"/>
<rect x="1816.1" y="674.81" width="69.6" height="356.59" fill="#A8CECB"/>
<rect x="1816.1" y="885.66" width="69.6" height="145.74" fill="#0C7A80"/>
<rect x="1902.1" y="1027.52" width="70.1" height="3.88" fill="#F5A080"/>
<line x1="1627.4" y1="1031.4" x2="1988.6" y2="1031.4" stroke="#000" stroke-width="2.4" stroke-dasharray="4.5 3.85"/>
<line x1="1678" y1="774.8" x2="1678" y2="789.4" stroke="#000" stroke-width="2" />
<line x1="1678" y1="643.8" x2="1678" y2="648.5" stroke="#000" stroke-width="2" />
<line x1="1764.4" y1="986.3" x2="1764.4" y2="1031.5" stroke="#000" stroke-width="2" />
<line x1="1851" y1="666.3" x2="1851" y2="685.5" stroke="#000" stroke-width="2" />
<line x1="1851" y1="876.4" x2="1851" y2="894.7" stroke="#000" stroke-width="2" />
<line x1="1937.3" y1="1010.8" x2="1937.3" y2="1055" stroke="#000" stroke-width="2" />
<path d="M1627.4 643.8 H1988.6 V672.9 M1988.6 755 V1050.6 H1627.4" fill="none" stroke="#000" stroke-width="2.2" stroke-linejoin="miter" stroke-linecap="square"/>
<line x1="1627.4" y1="643.8" x2="1627.4" y2="1050.6" stroke="#000" stroke-width="2.2" />
<line x1="1622.4" y1="1031.4" x2="1627.4" y2="1031.4" stroke="#000" stroke-width="2" />
<line x1="1624.1" y1="992.64" x2="1627.4" y2="992.64" stroke="#000" stroke-width="2" />
<line x1="1622.4" y1="953.88" x2="1627.4" y2="953.88" stroke="#000" stroke-width="2" />
<line x1="1624.1" y1="915.12" x2="1627.4" y2="915.12" stroke="#000" stroke-width="2" />
<line x1="1622.4" y1="876.36" x2="1627.4" y2="876.36" stroke="#000" stroke-width="2" />
<line x1="1624.1" y1="837.6" x2="1627.4" y2="837.6" stroke="#000" stroke-width="2" />
<line x1="1622.4" y1="798.84" x2="1627.4" y2="798.84" stroke="#000" stroke-width="2" />
<line x1="1624.1" y1="760.08" x2="1627.4" y2="760.08" stroke="#000" stroke-width="2" />
<line x1="1622.4" y1="721.32" x2="1627.4" y2="721.32" stroke="#000" stroke-width="2" />
<line x1="1624.1" y1="682.56" x2="1627.4" y2="682.56" stroke="#000" stroke-width="2" />
<line x1="1622.4" y1="643.8" x2="1627.4" y2="643.8" stroke="#000" stroke-width="2" />
<text x="1618.7" y="1041.3" font-size="28" text-anchor="end" >0</text>
<text x="1618.7" y="963.78" font-size="28" text-anchor="end" textLength="39" lengthAdjust="spacingAndGlyphs" >0.2</text>
<text x="1618.7" y="886.26" font-size="28" text-anchor="end" textLength="39" lengthAdjust="spacingAndGlyphs" >0.4</text>
<text x="1618.7" y="808.74" font-size="28" text-anchor="end" textLength="39" lengthAdjust="spacingAndGlyphs" >0.6</text>
<text x="1618.7" y="731.22" font-size="28" text-anchor="end" textLength="39" lengthAdjust="spacingAndGlyphs" >0.8</text>
<text x="1618.7" y="653.7" font-size="28" text-anchor="end" textLength="39" lengthAdjust="spacingAndGlyphs" >1.0</text>
<line x1="1677.9" y1="1050.6" x2="1677.9" y2="1055.6" stroke="#000" stroke-width="2" />
<line x1="1764.4" y1="1050.6" x2="1764.4" y2="1055.6" stroke="#000" stroke-width="2" />
<line x1="1850.9" y1="1050.6" x2="1850.9" y2="1055.6" stroke="#000" stroke-width="2" />
<line x1="1937.3" y1="1050.6" x2="1937.3" y2="1055.6" stroke="#000" stroke-width="2" />
<rect x="1917" y="672" width="228.4" height="80" fill="#fff"/>
<rect x="1920.2" y="684.3" width="21.8" height="21.6" fill="#0C7A80"/>
<rect x="1920.2" y="717.6" width="21.8" height="21.2" fill="#A8CECB"/>
<text x="1948.3" y="705.9" font-size="29.5" textLength="58.5" lengthAdjust="spacingAndGlyphs" >Raw</text>
<text x="1948.3" y="738.6" font-size="29.5" textLength="194.4" lengthAdjust="spacingAndGlyphs" >Error detection</text>
<text x="1659.1" y="1089.3" font-size="28.5" font-style="italic">X</text><text x="1677.9" y="1098.9" font-size="16.2" font-style="italic">L</text><text x="1679.7" y="1077.6" font-size="15.8" textLength="17.5" lengthAdjust="spacingAndGlyphs">(1)</text>
<text x="1745.6" y="1089.3" font-size="28.5" font-style="italic">Z</text><text x="1764.4" y="1098.9" font-size="16.2" font-style="italic">L</text><text x="1766.2" y="1077.6" font-size="15.8" textLength="17.5" lengthAdjust="spacingAndGlyphs">(1)</text>
<text x="1829.1" y="1089.3" font-size="28.5" font-style="italic">X</text><text x="1847.9" y="1098.9" font-size="16.2" font-style="italic">L</text><text x="1849.7" y="1077.6" font-size="15.8" textLength="17.5" lengthAdjust="spacingAndGlyphs">(2)</text>
<text x="1918.2" y="1089.3" font-size="28.5" font-style="italic">Z</text><text x="1937" y="1098.9" font-size="16.2" font-style="italic">L</text><text x="1938.8" y="1077.6" font-size="15.8" textLength="17.5" lengthAdjust="spacingAndGlyphs">(2)</text>
<text transform="translate(1558.2 612.8) rotate(-90)" font-size="29.2" text-anchor="end" textLength="452.8" lengthAdjust="spacingAndGlyphs">Logical operator expectation value</text>
<defs>
<radialGradient id="sRed" cx="0.4" cy="0.35" r="0.65"><stop offset="0" stop-color="#F25A50"/><stop offset="0.55" stop-color="#DC2A2A"/><stop offset="1" stop-color="#A0141E"/></radialGradient>
<radialGradient id="sPur" cx="0.4" cy="0.35" r="0.65"><stop offset="0" stop-color="#A2489E"/><stop offset="0.55" stop-color="#7E2A80"/><stop offset="1" stop-color="#4E1560"/></radialGradient>
<radialGradient id="sBlk" cx="0.4" cy="0.35" r="0.65"><stop offset="0" stop-color="#3A3A3A"/><stop offset="0.55" stop-color="#050505"/><stop offset="1" stop-color="#000000"/></radialGradient>
<radialGradient id="sGrn" cx="0.4" cy="0.35" r="0.65"><stop offset="0" stop-color="#9CCB5A"/><stop offset="0.55" stop-color="#6FA83A"/><stop offset="1" stop-color="#4C7E24"/></radialGradient>
<clipPath id="torClip"><path d="M1078 140 A157 100 0 0 1 1392 132 C1398 200 1335 282 1239 282 C1145 282 1072 222 1078 140 Z"/></clipPath>
<filter id="blur14" x="-50%" y="-50%" width="200%" height="200%"><feGaussianBlur stdDeviation="14"/></filter>
<filter id="blur7" x="-50%" y="-50%" width="200%" height="200%"><feGaussianBlur stdDeviation="7"/></filter>
<filter id="blur3" x="-50%" y="-50%" width="200%" height="200%"><feGaussianBlur stdDeviation="2.5"/></filter>
<filter id="blur1" x="-50%" y="-50%" width="200%" height="200%"><feGaussianBlur stdDeviation="0.8"/></filter>
</defs>
<path d="M1078 140 A157 100 0 0 1 1392 132 C1398 200 1335 282 1239 282 C1145 282 1072 222 1078 140 Z" fill="#F3DAD0"/>
<g clip-path="url(#torClip)">
<ellipse cx="1240" cy="250" rx="120" ry="16" fill="#E5D3DE" opacity="0.9" filter="url(#blur14)"/>
<ellipse cx="1108" cy="228" rx="34" ry="34" fill="#C08494" opacity="0.8" filter="url(#blur14)"/>
<ellipse cx="1374" cy="215" rx="30" ry="40" fill="#DADCEE" opacity="0.95" filter="url(#blur14)"/>
<ellipse cx="1389" cy="195" rx="7" ry="20" fill="#F4F4FA" opacity="0.9" filter="url(#blur7)"/>
<ellipse cx="1092" cy="168" rx="20" ry="32" fill="#F0C0A8" opacity="0.8" filter="url(#blur14)"/>
<ellipse cx="1118" cy="118" rx="28" ry="38" fill="#EFC6A6" opacity="0.9" filter="url(#blur14)"/>
<ellipse cx="1230" cy="75" rx="48" ry="18" fill="#EFE2E8" opacity="0.95" filter="url(#blur14)"/>
<ellipse cx="1168" cy="108" rx="32" ry="40" fill="#F8F5E4" opacity="1.0" filter="url(#blur14)"/>
<ellipse cx="1208" cy="108" rx="20" ry="24" fill="#E2E6F4" opacity="0.95" filter="url(#blur7)"/>
<ellipse cx="1240" cy="124" rx="28" ry="14" fill="#9E8AB2" opacity="0.9" filter="url(#blur7)"/>
<ellipse cx="1270" cy="130" rx="16" ry="11" fill="#8A5C78" opacity="0.85" filter="url(#blur7)"/>
<ellipse cx="1288" cy="112" rx="18" ry="24" fill="#C98E8C" opacity="0.85" filter="url(#blur7)"/>
<ellipse cx="1300" cy="125" rx="24" ry="24" fill="#EDAF8C" opacity="0.9" filter="url(#blur14)"/>
<ellipse cx="1345" cy="100" rx="32" ry="30" fill="#F0E4D0" opacity="0.95" filter="url(#blur14)"/>
<ellipse cx="1318" cy="150" rx="24" ry="22" fill="#EFAE88" opacity="0.95" filter="url(#blur14)"/>
<ellipse cx="1362" cy="142" rx="16" ry="26" fill="#F0E2D0" opacity="0.8" filter="url(#blur7)"/>
<ellipse cx="1242" cy="177" rx="44" ry="8" fill="#E69E7C" opacity="0.95" filter="url(#blur7)"/>
<ellipse cx="1240" cy="202" rx="58" ry="16" fill="#F6E6E2" opacity="0.85" filter="url(#blur14)"/>
<ellipse cx="1320" cy="196" rx="30" ry="17" fill="#FFF7EA" opacity="0.95" filter="url(#blur14)"/>
<ellipse cx="1162" cy="190" rx="28" ry="24" fill="#F4CDB8" opacity="0.8" filter="url(#blur14)"/>
<path d="M1085 190 C1110 240 1170 262 1240 263 C1310 263 1365 240 1392 200" fill="none" stroke="#A5829E" stroke-width="13" opacity="0.8" filter="url(#blur7)"/>
<path d="M1080 175 C1100 245 1170 280 1239 281 C1320 282 1385 235 1393 180" fill="none" stroke="#F3E4E8" stroke-width="7" opacity="0.9" filter="url(#blur3)"/>
</g>
<path d="M1198 152 C1205 140 1225 136 1244 136 C1268 136 1285 142 1290 152 C1288 162 1268 168 1244 168 C1220 168 1202 162 1198 152 Z" fill="#FFFFFF"/>
<path d="M1198 155 C1215 166 1230 169 1244 169 C1262 169 1278 164 1289 154" fill="none" stroke="#C27448" stroke-width="2.2" opacity="0.6" filter="url(#blur1)"/>
<circle cx="1230" cy="129" r="9" fill="#5C3C7A" opacity="0.75"/>
<circle cx="1186" cy="143" r="9" fill="#A06488" opacity="0.45"/>
<circle cx="1276" cy="146" r="9.5" fill="#8C2848" opacity="0.5"/>
<path d="M1129 72 C1128 100 1135 125 1143 131 C1152 150 1165 166 1176 173 C1183 188 1190 198 1196 201 C1212 210 1228 212 1239 211 C1255 210 1270 205 1280 199 C1288 188 1292 180 1292 170 C1300 150 1310 130 1313 124 C1320 100 1326 80 1327 68" fill="none" stroke="#8E8478" stroke-width="1.6" opacity="0.55"/>
<path d="M1280 199 C1300 215 1318 232 1336 244" fill="none" stroke="#8E8478" stroke-width="1.6" opacity="0.55"/>
<circle cx="1142.7" cy="131" r="9.5" fill="#A89A80" opacity="0.75"/>
<circle cx="1312.6" cy="124.2" r="9.5" fill="#A07050" opacity="0.75"/>
<circle cx="1176" cy="173.5" r="9.5" fill="#A09888" opacity="0.75"/>
<circle cx="1195.5" cy="201.1" r="9.5" fill="#F0B0A8" opacity="0.75"/>
<circle cx="1239" cy="211.4" r="9.5" fill="#A8A098" opacity="0.75"/>
<circle cx="1280.5" cy="198.8" r="9.5" fill="#F2B8B0" opacity="0.75"/>
<circle cx="1292" cy="170.1" r="9.5" fill="#B0A090" opacity="0.75"/>
<circle cx="1335.6" cy="243.6" r="9.5" fill="#7C88B0" opacity="0.75"/>
<circle cx="1225.4" cy="48.4" r="9.5" fill="#E8B8B0" opacity="0.75"/>
<circle cx="1129" cy="72.5" r="9.5" fill="#E8A888" opacity="0.75"/>
<circle cx="1326.4" cy="67.9" r="9.5" fill="#E8B8A8" opacity="0.75"/>
<circle cx="1083" cy="138" r="9.5" fill="#B888B0" opacity="0.75"/>
<circle cx="1383.8" cy="128.8" r="9.5" fill="#B890B8" opacity="0.75"/>
<circle cx="1145" cy="250.5" r="9.5" fill="#8A8A50" opacity="0.75"/>
<path d="M1127 67 C1160 48 1200 41 1226 41 C1260 41 1300 48 1329 62" fill="none" stroke="#C07AB8" stroke-width="5" opacity="0.55"/>
<path d="M1127 67 C1095 87 1078 115 1080 140 C1083 185 1150 232 1245 238 C1320 240 1390 195 1388 130 C1386 100 1360 78 1329 62" fill="none" stroke="#86278C" stroke-width="5.5"/>
<path d="M1085 135 C1088 110 1105 85 1127 69" fill="none" stroke="#D77C8E" stroke-width="3.5" opacity="0.6" transform="translate(3 0.5)"/>
<path d="M1331 65 C1355 78 1378 100 1383 125" fill="none" stroke="#D8A8C4" stroke-width="4" opacity="0.8" transform="translate(-3.5 0.5)"/>
<path d="M1183 153 C1205 165 1205 190 1195 210 C1182 232 1165 245 1150 252" fill="none" stroke="#D4E07A" stroke-width="5.5" opacity="0.7"/>
<path d="M1183 153 C1160 163 1137 190 1128 208 C1122 222 1122 240 1132 250 C1137 255 1142 257 1146 258" fill="none" stroke="#7CBE3E" stroke-width="5.5"/>
<path d="M1127 67 C1140 62 1165 68 1177 83 C1188 100 1195 125 1195.5 147" fill="none" stroke="#000" stroke-width="1.7"/>
<path d="M1329 63 C1315 62 1295 70 1286 82 C1276 100 1270 125 1270 145" fill="none" stroke="#000" stroke-width="1.7"/>
<path d="M1195.5 147 C1205 141 1218 137 1230 137 C1245 137 1260 140 1270 145 C1280 148 1290 150 1299 148" fill="none" stroke="#000" stroke-width="1.7"/>
<path d="M1299 148 C1325 160 1350 185 1361 200 C1368 215 1365 230 1363 240" fill="none" stroke="#000" stroke-width="1.7"/>
<circle cx="1224" cy="40" r="9" fill="url(#sPur)" />
<circle cx="1081.8" cy="135.6" r="9.5" fill="url(#sPur)" />
<circle cx="1387" cy="127" r="9.5" fill="url(#sPur)" />
<circle cx="1249.5" cy="237.9" r="10.5" fill="url(#sPur)" />
<circle cx="1126.6" cy="67.9" r="9" fill="url(#sRed)" />
<circle cx="1328.7" cy="63.3" r="9" fill="url(#sRed)" />
<circle cx="1127.8" cy="208" r="10" fill="url(#sRed)" />
<circle cx="1360.9" cy="200" r="10" fill="url(#sRed)" />
<circle cx="1195.5" cy="147" r="8" fill="url(#sRed)" />
<circle cx="1270" cy="144.8" r="8" fill="url(#sRed)" />
<circle cx="1177" cy="83" r="10" fill="url(#sBlk)" />
<circle cx="1286" cy="81.7" r="10" fill="url(#sBlk)" />
<circle cx="1230" cy="136.8" r="8" fill="url(#sBlk)" />
<circle cx="1299" cy="148.3" r="9" fill="url(#sBlk)" />
<circle cx="1339" cy="251.6" r="8" fill="url(#sBlk)" />
<circle cx="1183" cy="153" r="8.5" fill="url(#sGrn)" />
<circle cx="1145" cy="257.4" r="7.5" fill="url(#sGrn)" />
<circle cx="1224" cy="44" r="9" fill="#E9B9BC" opacity="0.7"/>
<circle cx="1339" cy="247" r="9.5" fill="#8090B8" opacity="0.8"/>
<circle cx="1148" cy="250.5" r="9" fill="#8A8A50" opacity="0.6"/>
<line x1="1384" y1="114.5" x2="1411.6" y2="105.2" stroke="#000" stroke-width="2.3" />
<text x="1417.2" y="110.9" font-size="30" font-style="italic">X</text>
<text x="1436.8" y="120.9" font-size="17.3" font-style="italic">L</text>
<text x="1437.6" y="99.2" font-size="17.3" textLength="18.4" lengthAdjust="spacingAndGlyphs">(2)</text>
<line x1="1100.5" y1="258.5" x2="1124.6" y2="238.5" stroke="#000" stroke-width="2.3" />
<text x="1057.5" y="280.8" font-size="30" font-style="italic">X</text>
<text x="1077.1" y="290.5" font-size="17.3" font-style="italic">L</text>
<text x="1077.8" y="268.7" font-size="17.3" textLength="18.4" lengthAdjust="spacingAndGlyphs">(1)</text>
<text x="1031.8" y="21.3" font-size="33" font-weight="bold" stroke="#000" stroke-width="1">c</text>
<text x="1373.7" y="21.3" font-size="29.3" >Toric code (on a torus)</text>
<path d="M1618.6 74 C1612.6 62 1596.6 64 1592.6 84 C1589.6 110 1589.6 200 1592.6 230 C1596.6 254 1610.6 260 1620.6 243" fill="none" stroke="#ABABAB" stroke-width="3.4" stroke-dasharray="6.2 4.4"/>
<path d="M1714.3 74 C1708.3 62 1692.3 64 1688.3 84 C1685.3 110 1685.3 200 1688.3 230 C1692.3 254 1706.3 260 1716.3 243" fill="none" stroke="#ABABAB" stroke-width="3.4" stroke-dasharray="6.2 4.4"/>
<path d="M1809.2 74 C1803.2 62 1787.2 64 1783.2 84 C1780.2 110 1780.2 200 1783.2 230 C1787.2 254 1801.2 260 1811.2 243" fill="none" stroke="#ABABAB" stroke-width="3.4" stroke-dasharray="6.2 4.4"/>
<path d="M1520.3 72 C1513.3 62 1499.3 62 1495.3 84 C1491.3 110 1491.3 200 1495.3 232 C1499.3 256 1511.3 260 1520.3 246" fill="none" stroke="#B6DD90" stroke-width="3.4" stroke-dasharray="6.2 4.4"/>
<path d="M1521 136 C1506 132 1500 126 1504 121 C1510 112 1540 108 1600 107.3 L1820 107.3 C1860 108 1880 114 1879 122 C1878 128 1876 131 1873 134" fill="none" stroke="#C48ACD" stroke-width="3.4" stroke-dasharray="6.2 4.4"/>
<path d="M1511 229 C1502 224 1500 218 1506 214 C1514 205 1540 202 1600 201.7 L1820 201.7 C1860 203 1880 210 1879 218 C1878 222 1876 225 1873 229" fill="none" stroke="#ABABAB" stroke-width="3.4" stroke-dasharray="6.2 4.4"/>
<line x1="1618.6" y1="88.9" x2="1618.6" y2="231.2" stroke="#000" stroke-width="2.4" />
<line x1="1714.3" y1="88.9" x2="1714.3" y2="231.2" stroke="#000" stroke-width="2.4" />
<line x1="1809.2" y1="88.9" x2="1809.2" y2="231.2" stroke="#000" stroke-width="2.4" />
<line x1="1523.3" y1="231.2" x2="1857.4" y2="231.2" stroke="#000" stroke-width="2.4" />
<line x1="1523.3" y1="88.9" x2="1523.3" y2="231.2" stroke="#7CBE3E" stroke-width="4" />
<circle cx="1618.6" cy="88.9" r="9.4" fill="#000" />
<circle cx="1618.6" cy="183.8" r="9.4" fill="#000" />
<circle cx="1714.3" cy="88.9" r="9.4" fill="#000" />
<circle cx="1714.3" cy="183.8" r="9.4" fill="#000" />
<circle cx="1809.2" cy="88.9" r="9.4" fill="#000" />
<circle cx="1809.2" cy="183.8" r="9.4" fill="#000" />
<circle cx="1523.3" cy="231.2" r="9.4" fill="#E2433A" />
<circle cx="1570.8" cy="231.2" r="9.4" fill="#000" />
<circle cx="1618.6" cy="231.2" r="9.4" fill="#E2433A" />
<circle cx="1665.9" cy="231.2" r="9.4" fill="#000" />
<circle cx="1714.3" cy="231.2" r="9.4" fill="#E2433A" />
<circle cx="1761.4" cy="231.2" r="9.4" fill="#000" />
<circle cx="1809.2" cy="231.2" r="9.4" fill="#E2433A" />
<circle cx="1857.4" cy="231.2" r="9.4" fill="#000" />
<circle cx="1523.3" cy="136.3" r="9.4" fill="#E2433A" />
<circle cx="1618.6" cy="136.3" r="9.4" fill="#E2433A" />
<circle cx="1714.3" cy="136.3" r="9.4" fill="#E2433A" />
<circle cx="1809.2" cy="136.3" r="9.4" fill="#E2433A" />
<line x1="1523.3" y1="136.3" x2="1857.4" y2="136.3" stroke="#8A2B8E" stroke-width="5" />
<circle cx="1523.3" cy="88.9" r="14.4" fill="#7CBE3E" /><circle cx="1523.3" cy="88.9" r="9.6" fill="#000" /><text x="1523" y="96" font-size="20" text-anchor="middle" font-style="italic" fill="#fff" font-weight="300">X</text>
<circle cx="1523.3" cy="183.8" r="14.4" fill="#7CBE3E" /><circle cx="1523.3" cy="183.8" r="9.6" fill="#000" /><text x="1523" y="190.9" font-size="20" text-anchor="middle" font-style="italic" fill="#fff" font-weight="300">X</text>
<circle cx="1570.8" cy="136.3" r="14.4" fill="#8A2B8E" /><circle cx="1570.8" cy="136.3" r="9.6" fill="#000" /><text x="1570.5" y="143.4" font-size="20" text-anchor="middle" font-style="italic" fill="#fff" font-weight="300">X</text>
<circle cx="1665.9" cy="136.3" r="14.4" fill="#8A2B8E" /><circle cx="1665.9" cy="136.3" r="9.6" fill="#000" /><text x="1665.6" y="143.4" font-size="20" text-anchor="middle" font-style="italic" fill="#fff" font-weight="300">X</text>
<circle cx="1761.4" cy="136.3" r="14.4" fill="#8A2B8E" /><circle cx="1761.4" cy="136.3" r="9.6" fill="#000" /><text x="1761.1" y="143.4" font-size="20" text-anchor="middle" font-style="italic" fill="#fff" font-weight="300">X</text>
<circle cx="1857.4" cy="136.3" r="14.4" fill="#8A2B8E" /><circle cx="1857.4" cy="136.3" r="9.6" fill="#000" /><text x="1857.1" y="143.4" font-size="20" text-anchor="middle" font-style="italic" fill="#fff" font-weight="300">X</text>
<line x1="1009.5" y1="565.9" x2="2131" y2="565.9" stroke="#000" stroke-width="2.2" />
<path d="M2146 566 L2129.4 559 L2133 566 L2129.4 573 Z" fill="#000" stroke="#000" stroke-width="1" stroke-linejoin="miter"/>
<line x1="1004.1" y1="571.5" x2="1027.5" y2="560.5" stroke="#000" stroke-width="2.4" />
<line x1="1161.8" y1="571.5" x2="1185.2" y2="560.5" stroke="#000" stroke-width="2.4" />
<line x1="1319.3" y1="571.5" x2="1342.7" y2="560.5" stroke="#000" stroke-width="2.4" />
<line x1="1477.3" y1="571.5" x2="1500.7" y2="560.5" stroke="#000" stroke-width="2.4" />
<line x1="1635.8" y1="571.5" x2="1659.2" y2="560.5" stroke="#000" stroke-width="2.4" />
<line x1="1883.8" y1="571.5" x2="1907.2" y2="560.5" stroke="#000" stroke-width="2.4" />
<text x="1001.9" y="596.8" font-size="25.3" text-anchor="middle" textLength="13.5" lengthAdjust="spacingAndGlyphs" >0</text>
<text x="1160.3" y="596.8" font-size="25.3" text-anchor="middle" textLength="42.2" lengthAdjust="spacingAndGlyphs" >205</text>
<text x="1318.8" y="596.8" font-size="25.3" text-anchor="middle" textLength="42.2" lengthAdjust="spacingAndGlyphs" >410</text>
<text x="1477.7" y="596.8" font-size="25.3" text-anchor="middle" textLength="42.2" lengthAdjust="spacingAndGlyphs" >615</text>
<text x="1637.6" y="596.8" font-size="25.3" text-anchor="middle" textLength="42.2" lengthAdjust="spacingAndGlyphs" >820</text>
<text x="1886.5" y="596.8" font-size="25.3" text-anchor="middle" textLength="61" lengthAdjust="spacingAndGlyphs" >1,170</text>
<text x="2037.6" y="601.9" font-size="28.9" textLength="120" lengthAdjust="spacingAndGlyphs" >Time (μs)</text>
<defs>
<filter id="speck" x="0" y="0" width="100%" height="100%" color-interpolation-filters="sRGB"><feTurbulence type="fractalNoise" baseFrequency="0.38" numOctaves="3" seed="7" result="t"/><feColorMatrix in="t" type="matrix" values="0 0 0 0 0.5  0 0 0 0 0.76  0 0 0 0 0.76  0 0 0 -2.6 1.12" result="c"/><feComposite in="c" in2="SourceGraphic" operator="in"/></filter>
<linearGradient id="f6g" gradientUnits="userSpaceOnUse" x1="2013.3" y1="267.8" x2="2090.7" y2="452.2"><stop offset="0" stop-color="#EDF7F9"/><stop offset="0.22" stop-color="#F3FAFB"/><stop offset="0.31" stop-color="#CDE4EF"/><stop offset="0.45" stop-color="#AFD3E6"/><stop offset="0.75" stop-color="#B5D6E7"/><stop offset="1" stop-color="#C4DEEB"/></linearGradient>
<radialGradient id="f6r" gradientUnits="userSpaceOnUse" cx="1935" cy="545" r="170"><stop offset="0" stop-color="#E0EFF5" stop-opacity="0.85"/><stop offset="1" stop-color="#DCEEF5" stop-opacity="0"/></radialGradient>
<filter id="shadow6" x="-20%" y="-20%" width="140%" height="140%"><feGaussianBlur stdDeviation="3"/></filter>
<marker id="ah" viewBox="0 0 10 10" refX="9" refY="5" markerWidth="4.2" markerHeight="4.2" orient="auto-start-reverse" markerUnits="strokeWidth"><path d="M0 0 L10 5 L0 10 L3 5 Z" fill="#E8665E"/></marker>
<marker id="ahl" viewBox="0 0 10 10" refX="9" refY="5" markerWidth="4.5" markerHeight="4.5" orient="auto" markerUnits="strokeWidth"><path d="M0 0 L10 5 L0 10 L3 5 Z" fill="#F4B3AE"/></marker>
</defs>
<path d="M1051.4 379 L1200.7 309.8 L1200.7 478 L1051.4 547.2 Z" fill="#F0F9FA"/>
<path d="M1051.4 379 L1200.7 309.8 L1200.7 478 L1051.4 547.2 Z" fill="#000" filter="url(#speck)"/>
<path d="M1208 379.9 L1357 310.4 L1357 476.5 L1208 547.2 Z" fill="#F0F9FA"/>
<path d="M1208 379.9 L1357 310.4 L1357 476.5 L1208 547.2 Z" fill="#000" filter="url(#speck)"/>
<path d="M1364.6 379.9 L1513.6 310.4 L1513.6 478 L1364.6 547.2 Z" fill="#F0F9FA"/>
<path d="M1364.6 379.9 L1513.6 310.4 L1513.6 478 L1364.6 547.2 Z" fill="#000" filter="url(#speck)"/>
<path d="M1522.3 379 L1673.2 309.5 L1674 478 L1522.3 547.6 Z" fill="#F0F9FA"/>
<path d="M1522.3 379 L1673.2 309.5 L1674 478 L1522.3 547.6 Z" fill="#000" filter="url(#speck)"/>
<path d="M1680.3 378.4 L1910.6 272.4 L1911 442.4 L1680.3 547.6 Z" fill="#F0F9FA"/>
<path d="M1680.3 378.4 L1910.6 272.4 L1911 442.4 L1680.3 547.6 Z" fill="#000" filter="url(#speck)"/>
<path d="M1920 234.8 L2151.8 127 L2151.8 440.8 L1921 547 Z" fill="#9CC7DE" opacity="0.6" filter="url(#shadow6)" transform="translate(2 3)"/>
<path d="M1920 234.8 L2151.8 127 L2151.8 440.8 L1921 547 Z" fill="url(#f6g)"/>
<path d="M1920 234.8 L2151.8 127 L2151.8 440.8 L1921 547 Z" fill="url(#f6r)"/>
<path d="M1920 234.8 L2151.8 127 L2151.8 440.8 L1921 547 Z" fill="#000" filter="url(#speck)" opacity="0.55"/>
<ellipse cx="1091.2" cy="374.05" rx="3.4" ry="4.2" fill="#3E9A78" opacity="0.3"/><rect x="1089.4" y="371.45" width="3.6" height="5.2" rx="1" fill="#0B4F33"/>
<ellipse cx="1124.9" cy="358.43" rx="3.4" ry="4.2" fill="#3E9A78" opacity="0.3"/><rect x="1123.1" y="355.83" width="3.6" height="5.2" rx="1" fill="#0B4F33"/>
<ellipse cx="1158.7" cy="342.77" rx="3.4" ry="4.2" fill="#3E9A78" opacity="0.3"/><rect x="1156.9" y="340.17" width="3.6" height="5.2" rx="1" fill="#0B4F33"/>
<ellipse cx="1192.5" cy="327.1" rx="3.4" ry="4.2" fill="#3E9A78" opacity="0.3"/><rect x="1190.7" y="324.5" width="3.6" height="5.2" rx="1" fill="#0B4F33"/>
<ellipse cx="1057.4" cy="439.02" rx="3.4" ry="4.2" fill="#3E9A78" opacity="0.3"/><rect x="1055.6" y="436.42" width="3.6" height="5.2" rx="1" fill="#0B4F33"/>
<ellipse cx="1091.2" cy="423.35" rx="3.4" ry="4.2" fill="#3E9A78" opacity="0.3"/><rect x="1089.4" y="420.75" width="3.6" height="5.2" rx="1" fill="#0B4F33"/>
<ellipse cx="1124.9" cy="407.73" rx="3.4" ry="4.2" fill="#3E9A78" opacity="0.3"/><rect x="1123.1" y="405.13" width="3.6" height="5.2" rx="1" fill="#0B4F33"/>
<ellipse cx="1158.7" cy="392.07" rx="3.4" ry="4.2" fill="#3E9A78" opacity="0.3"/><rect x="1156.9" y="389.47" width="3.6" height="5.2" rx="1" fill="#0B4F33"/>
<ellipse cx="1247.8" cy="374.84" rx="3.4" ry="4.2" fill="#3E9A78" opacity="0.3"/><rect x="1246" y="372.24" width="3.6" height="5.2" rx="1" fill="#0B4F33"/>
<ellipse cx="1281.5" cy="359.12" rx="3.4" ry="4.2" fill="#3E9A78" opacity="0.3"/><rect x="1279.7" y="356.52" width="3.6" height="5.2" rx="1" fill="#0B4F33"/>
<ellipse cx="1315.3" cy="343.35" rx="3.4" ry="4.2" fill="#3E9A78" opacity="0.3"/><rect x="1313.5" y="340.75" width="3.6" height="5.2" rx="1" fill="#0B4F33"/>
<ellipse cx="1349.1" cy="327.58" rx="3.4" ry="4.2" fill="#3E9A78" opacity="0.3"/><rect x="1347.3" y="324.98" width="3.6" height="5.2" rx="1" fill="#0B4F33"/>
<ellipse cx="1247.8" cy="472.84" rx="3.4" ry="4.2" fill="#3E9A78" opacity="0.3"/><rect x="1246" y="470.24" width="3.6" height="5.2" rx="1" fill="#0B4F33"/>
<ellipse cx="1281.5" cy="457.12" rx="3.4" ry="4.2" fill="#3E9A78" opacity="0.3"/><rect x="1279.7" y="454.52" width="3.6" height="5.2" rx="1" fill="#0B4F33"/>
<ellipse cx="1315.3" cy="441.35" rx="3.4" ry="4.2" fill="#3E9A78" opacity="0.3"/><rect x="1313.5" y="438.75" width="3.6" height="5.2" rx="1" fill="#0B4F33"/>
<ellipse cx="1349.1" cy="425.58" rx="3.4" ry="4.2" fill="#3E9A78" opacity="0.3"/><rect x="1347.3" y="422.98" width="3.6" height="5.2" rx="1" fill="#0B4F33"/>
<ellipse cx="1349" cy="474.13" rx="3.4" ry="4.2" fill="#3E9A78" opacity="0.3"/><rect x="1347.2" y="471.53" width="3.6" height="5.2" rx="1" fill="#0B4F33"/>
<ellipse cx="1404.4" cy="475.34" rx="3.4" ry="4.2" fill="#3E9A78" opacity="0.3"/><rect x="1402.6" y="472.74" width="3.6" height="5.2" rx="1" fill="#0B4F33"/>
<ellipse cx="1438.1" cy="459.62" rx="3.4" ry="4.2" fill="#3E9A78" opacity="0.3"/><rect x="1436.3" y="457.02" width="3.6" height="5.2" rx="1" fill="#0B4F33"/>
<ellipse cx="1471.9" cy="443.85" rx="3.4" ry="4.2" fill="#3E9A78" opacity="0.3"/><rect x="1470.1" y="441.25" width="3.6" height="5.2" rx="1" fill="#0B4F33"/>
<ellipse cx="1505.7" cy="428.08" rx="3.4" ry="4.2" fill="#3E9A78" opacity="0.3"/><rect x="1503.9" y="425.48" width="3.6" height="5.2" rx="1" fill="#0B4F33"/>
<ellipse cx="1404.4" cy="525.34" rx="3.4" ry="4.2" fill="#3E9A78" opacity="0.3"/><rect x="1402.6" y="522.74" width="3.6" height="5.2" rx="1" fill="#0B4F33"/>
<ellipse cx="1438.1" cy="509.62" rx="3.4" ry="4.2" fill="#3E9A78" opacity="0.3"/><rect x="1436.3" y="507.02" width="3.6" height="5.2" rx="1" fill="#0B4F33"/>
<ellipse cx="1471.9" cy="493.85" rx="3.4" ry="4.2" fill="#3E9A78" opacity="0.3"/><rect x="1470.1" y="491.25" width="3.6" height="5.2" rx="1" fill="#0B4F33"/>
<ellipse cx="1505.7" cy="478.08" rx="3.4" ry="4.2" fill="#3E9A78" opacity="0.3"/><rect x="1503.9" y="475.48" width="3.6" height="5.2" rx="1" fill="#0B4F33"/>
<ellipse cx="1505.9" cy="326.69" rx="3.4" ry="4.2" fill="#3E9A78" opacity="0.3"/><rect x="1504.1" y="324.09" width="3.6" height="5.2" rx="1" fill="#0B4F33"/>
<ellipse cx="1526.5" cy="440.07" rx="3.4" ry="4.2" fill="#3E9A78" opacity="0.3"/><rect x="1524.7" y="437.47" width="3.6" height="5.2" rx="1" fill="#0B4F33"/>
<ellipse cx="1560.6" cy="424.36" rx="3.4" ry="4.2" fill="#3E9A78" opacity="0.3"/><rect x="1558.8" y="421.76" width="3.6" height="5.2" rx="1" fill="#0B4F33"/>
<ellipse cx="1594.4" cy="408.79" rx="3.4" ry="4.2" fill="#3E9A78" opacity="0.3"/><rect x="1592.6" y="406.19" width="3.6" height="5.2" rx="1" fill="#0B4F33"/>
<ellipse cx="1627.7" cy="393.46" rx="3.4" ry="4.2" fill="#3E9A78" opacity="0.3"/><rect x="1625.9" y="390.86" width="3.6" height="5.2" rx="1" fill="#0B4F33"/>
<ellipse cx="1526.5" cy="539.07" rx="3.4" ry="4.2" fill="#3E9A78" opacity="0.3"/><rect x="1524.7" y="536.47" width="3.6" height="5.2" rx="1" fill="#0B4F33"/>
<ellipse cx="1560.6" cy="523.36" rx="3.4" ry="4.2" fill="#3E9A78" opacity="0.3"/><rect x="1558.8" y="520.76" width="3.6" height="5.2" rx="1" fill="#0B4F33"/>
<ellipse cx="1594.4" cy="507.79" rx="3.4" ry="4.2" fill="#3E9A78" opacity="0.3"/><rect x="1592.6" y="505.19" width="3.6" height="5.2" rx="1" fill="#0B4F33"/>
<ellipse cx="1627.7" cy="492.46" rx="3.4" ry="4.2" fill="#3E9A78" opacity="0.3"/><rect x="1625.9" y="489.86" width="3.6" height="5.2" rx="1" fill="#0B4F33"/>
<ellipse cx="1662.3" cy="476.52" rx="3.4" ry="4.2" fill="#3E9A78" opacity="0.3"/><rect x="1660.5" y="473.92" width="3.6" height="5.2" rx="1" fill="#0B4F33"/>
<ellipse cx="1718.6" cy="373.77" rx="3.4" ry="4.2" fill="#3E9A78" opacity="0.3"/><rect x="1716.8" y="371.17" width="3.6" height="5.2" rx="1" fill="#0B4F33"/>
<ellipse cx="1752" cy="358.4" rx="3.4" ry="4.2" fill="#3E9A78" opacity="0.3"/><rect x="1750.2" y="355.8" width="3.6" height="5.2" rx="1" fill="#0B4F33"/>
<ellipse cx="1786" cy="342.75" rx="3.4" ry="4.2" fill="#3E9A78" opacity="0.3"/><rect x="1784.2" y="340.15" width="3.6" height="5.2" rx="1" fill="#0B4F33"/>
<ellipse cx="1684.3" cy="439.56" rx="3.4" ry="4.2" fill="#3E9A78" opacity="0.3"/><rect x="1682.5" y="436.96" width="3.6" height="5.2" rx="1" fill="#0B4F33"/>
<ellipse cx="1718.6" cy="423.77" rx="3.4" ry="4.2" fill="#3E9A78" opacity="0.3"/><rect x="1716.8" y="421.17" width="3.6" height="5.2" rx="1" fill="#0B4F33"/>
<ellipse cx="1752" cy="408.4" rx="3.4" ry="4.2" fill="#3E9A78" opacity="0.3"/><rect x="1750.2" y="405.8" width="3.6" height="5.2" rx="1" fill="#0B4F33"/>
<ellipse cx="1786" cy="392.75" rx="3.4" ry="4.2" fill="#3E9A78" opacity="0.3"/><rect x="1784.2" y="390.15" width="3.6" height="5.2" rx="1" fill="#0B4F33"/>
<ellipse cx="1684.3" cy="488.56" rx="3.4" ry="4.2" fill="#3E9A78" opacity="0.3"/><rect x="1682.5" y="485.96" width="3.6" height="5.2" rx="1" fill="#0B4F33"/>
<ellipse cx="1718.6" cy="472.77" rx="3.4" ry="4.2" fill="#3E9A78" opacity="0.3"/><rect x="1716.8" y="470.17" width="3.6" height="5.2" rx="1" fill="#0B4F33"/>
<ellipse cx="1752" cy="457.4" rx="3.4" ry="4.2" fill="#3E9A78" opacity="0.3"/><rect x="1750.2" y="454.8" width="3.6" height="5.2" rx="1" fill="#0B4F33"/>
<ellipse cx="1786" cy="441.75" rx="3.4" ry="4.2" fill="#3E9A78" opacity="0.3"/><rect x="1784.2" y="439.15" width="3.6" height="5.2" rx="1" fill="#0B4F33"/>
<ellipse cx="1684.3" cy="537.56" rx="3.4" ry="4.2" fill="#3E9A78" opacity="0.3"/><rect x="1682.5" y="534.96" width="3.6" height="5.2" rx="1" fill="#0B4F33"/>
<ellipse cx="1718.6" cy="521.77" rx="3.4" ry="4.2" fill="#3E9A78" opacity="0.3"/><rect x="1716.8" y="519.17" width="3.6" height="5.2" rx="1" fill="#0B4F33"/>
<ellipse cx="1752" cy="506.4" rx="3.4" ry="4.2" fill="#3E9A78" opacity="0.3"/><rect x="1750.2" y="503.8" width="3.6" height="5.2" rx="1" fill="#0B4F33"/>
<ellipse cx="1786" cy="490.75" rx="3.4" ry="4.2" fill="#3E9A78" opacity="0.3"/><rect x="1784.2" y="488.15" width="3.6" height="5.2" rx="1" fill="#0B4F33"/>
<ellipse cx="1819.8" cy="426.19" rx="3.4" ry="4.2" fill="#3E9A78" opacity="0.3"/><rect x="1818" y="423.59" width="3.6" height="5.2" rx="1" fill="#0B4F33"/>
<ellipse cx="1960.2" cy="376.1" rx="3.4" ry="4.2" fill="#3E9A78" opacity="0.3"/><rect x="1958.4" y="373.5" width="3.6" height="5.2" rx="1" fill="#0B4F33"/>
<ellipse cx="1993.3" cy="360.71" rx="3.4" ry="4.2" fill="#3E9A78" opacity="0.3"/><rect x="1991.5" y="358.11" width="3.6" height="5.2" rx="1" fill="#0B4F33"/>
<ellipse cx="2028.3" cy="344.43" rx="3.4" ry="4.2" fill="#3E9A78" opacity="0.3"/><rect x="2026.5" y="341.83" width="3.6" height="5.2" rx="1" fill="#0B4F33"/>
<ellipse cx="2061.3" cy="329.09" rx="3.4" ry="4.2" fill="#3E9A78" opacity="0.3"/><rect x="2059.5" y="326.49" width="3.6" height="5.2" rx="1" fill="#0B4F33"/>
<ellipse cx="1960.2" cy="425.1" rx="3.4" ry="4.2" fill="#3E9A78" opacity="0.3"/><rect x="1958.4" y="422.5" width="3.6" height="5.2" rx="1" fill="#0B4F33"/>
<ellipse cx="1993.3" cy="409.71" rx="3.4" ry="4.2" fill="#3E9A78" opacity="0.3"/><rect x="1991.5" y="407.11" width="3.6" height="5.2" rx="1" fill="#0B4F33"/>
<ellipse cx="2028.3" cy="393.43" rx="3.4" ry="4.2" fill="#3E9A78" opacity="0.3"/><rect x="2026.5" y="390.83" width="3.6" height="5.2" rx="1" fill="#0B4F33"/>
<ellipse cx="2061.3" cy="378.09" rx="3.4" ry="4.2" fill="#3E9A78" opacity="0.3"/><rect x="2059.5" y="375.49" width="3.6" height="5.2" rx="1" fill="#0B4F33"/>
<ellipse cx="1960.2" cy="474.1" rx="3.4" ry="4.2" fill="#3E9A78" opacity="0.3"/><rect x="1958.4" y="471.5" width="3.6" height="5.2" rx="1" fill="#0B4F33"/>
<ellipse cx="1993.3" cy="458.71" rx="3.4" ry="4.2" fill="#3E9A78" opacity="0.3"/><rect x="1991.5" y="456.11" width="3.6" height="5.2" rx="1" fill="#0B4F33"/>
<ellipse cx="2028.3" cy="442.43" rx="3.4" ry="4.2" fill="#3E9A78" opacity="0.3"/><rect x="2026.5" y="439.83" width="3.6" height="5.2" rx="1" fill="#0B4F33"/>
<ellipse cx="2061.3" cy="427.09" rx="3.4" ry="4.2" fill="#3E9A78" opacity="0.3"/><rect x="2059.5" y="424.49" width="3.6" height="5.2" rx="1" fill="#0B4F33"/>
<ellipse cx="1960.2" cy="524.1" rx="3.4" ry="4.2" fill="#3E9A78" opacity="0.3"/><rect x="1958.4" y="521.5" width="3.6" height="5.2" rx="1" fill="#0B4F33"/>
<ellipse cx="1993.3" cy="508.71" rx="3.4" ry="4.2" fill="#3E9A78" opacity="0.3"/><rect x="1991.5" y="506.11" width="3.6" height="5.2" rx="1" fill="#0B4F33"/>
<ellipse cx="2028.3" cy="492.43" rx="3.4" ry="4.2" fill="#3E9A78" opacity="0.3"/><rect x="2026.5" y="489.83" width="3.6" height="5.2" rx="1" fill="#0B4F33"/>
<ellipse cx="2061.3" cy="477.09" rx="3.4" ry="4.2" fill="#3E9A78" opacity="0.3"/><rect x="2059.5" y="474.49" width="3.6" height="5.2" rx="1" fill="#0B4F33"/>
<g transform="translate(1085.5 474.79) rotate(-25)"><ellipse cx="0" cy="0" rx="9" ry="5.8" fill="#EAF4F6" stroke="#1E5DA6" stroke-width="1.9"/><ellipse cx="-3.2" cy="0" rx="2.3" ry="3.4" fill="#6B6E3A" stroke="#D8322A" stroke-width="1.3"/><ellipse cx="3.4" cy="0" rx="1.4" ry="2.4" fill="#0C5C38"/></g>
<g transform="translate(1087.8 522.93) rotate(-25)"><ellipse cx="0" cy="0" rx="9" ry="5.8" fill="#EAF4F6" stroke="#1E5DA6" stroke-width="1.9"/><ellipse cx="-3.2" cy="0" rx="2.3" ry="3.4" fill="#6B6E3A" stroke="#D8322A" stroke-width="1.3"/><ellipse cx="3.4" cy="0" rx="1.4" ry="2.4" fill="#0C5C38"/></g>
<g transform="translate(1121.6 458.06) rotate(-25)"><ellipse cx="0" cy="0" rx="9" ry="5.8" fill="#EAF4F6" stroke="#1E5DA6" stroke-width="1.9"/><ellipse cx="-3.2" cy="0" rx="2.3" ry="3.4" fill="#6B6E3A" stroke="#D8322A" stroke-width="1.3"/><ellipse cx="3.4" cy="0" rx="1.4" ry="2.4" fill="#0C5C38"/></g>
<g transform="translate(1123.9 506.2) rotate(-25)"><ellipse cx="0" cy="0" rx="9" ry="5.8" fill="#EAF4F6" stroke="#1E5DA6" stroke-width="1.9"/><ellipse cx="-3.2" cy="0" rx="2.3" ry="3.4" fill="#6B6E3A" stroke="#D8322A" stroke-width="1.3"/><ellipse cx="3.4" cy="0" rx="1.4" ry="2.4" fill="#0C5C38"/></g>
<g transform="translate(1155.3 442.44) rotate(-25)"><ellipse cx="0" cy="0" rx="9" ry="5.8" fill="#EAF4F6" stroke="#1E5DA6" stroke-width="1.9"/><ellipse cx="-3.2" cy="0" rx="2.3" ry="3.4" fill="#6B6E3A" stroke="#D8322A" stroke-width="1.3"/><ellipse cx="3.4" cy="0" rx="1.4" ry="2.4" fill="#0C5C38"/></g>
<g transform="translate(1157.6 490.58) rotate(-25)"><ellipse cx="0" cy="0" rx="9" ry="5.8" fill="#EAF4F6" stroke="#1E5DA6" stroke-width="1.9"/><ellipse cx="-3.2" cy="0" rx="2.3" ry="3.4" fill="#6B6E3A" stroke="#D8322A" stroke-width="1.3"/><ellipse cx="3.4" cy="0" rx="1.4" ry="2.4" fill="#0C5C38"/></g>
<g transform="translate(1189.1 426.78) rotate(-25)"><ellipse cx="0" cy="0" rx="9" ry="5.8" fill="#EAF4F6" stroke="#1E5DA6" stroke-width="1.9"/><ellipse cx="-3.2" cy="0" rx="2.3" ry="3.4" fill="#6B6E3A" stroke="#D8322A" stroke-width="1.3"/><ellipse cx="3.4" cy="0" rx="1.4" ry="2.4" fill="#0C5C38"/></g>
<g transform="translate(1191.4 474.91) rotate(-25)"><ellipse cx="0" cy="0" rx="9" ry="5.8" fill="#EAF4F6" stroke="#1E5DA6" stroke-width="1.9"/><ellipse cx="-3.2" cy="0" rx="2.3" ry="3.4" fill="#6B6E3A" stroke="#D8322A" stroke-width="1.3"/><ellipse cx="3.4" cy="0" rx="1.4" ry="2.4" fill="#0C5C38"/></g>
<g transform="translate(1215.8 438.56) rotate(-25)"><ellipse cx="0" cy="0" rx="9" ry="5.8" fill="#EAF4F6" stroke="#1E5DA6" stroke-width="1.9"/><ellipse cx="3.2" cy="0" rx="2.3" ry="3.4" fill="#6B6E3A" stroke="#D8322A" stroke-width="1.3"/><ellipse cx="-3.4" cy="0" rx="1.4" ry="2.4" fill="#0C5C38"/></g>
<g transform="translate(1250 422.61) rotate(-25)"><ellipse cx="0" cy="0" rx="9" ry="5.8" fill="#EAF4F6" stroke="#1E5DA6" stroke-width="1.9"/><ellipse cx="3.2" cy="0" rx="2.3" ry="3.4" fill="#6B6E3A" stroke="#D8322A" stroke-width="1.3"/><ellipse cx="-3.4" cy="0" rx="1.4" ry="2.4" fill="#0C5C38"/></g>
<g transform="translate(1283.3 407.08) rotate(-25)"><ellipse cx="0" cy="0" rx="9" ry="5.8" fill="#EAF4F6" stroke="#1E5DA6" stroke-width="1.9"/><ellipse cx="3.2" cy="0" rx="2.3" ry="3.4" fill="#6B6E3A" stroke="#D8322A" stroke-width="1.3"/><ellipse cx="-3.4" cy="0" rx="1.4" ry="2.4" fill="#0C5C38"/></g>
<g transform="translate(1317.1 391.31) rotate(-25)"><ellipse cx="0" cy="0" rx="9" ry="5.8" fill="#EAF4F6" stroke="#1E5DA6" stroke-width="1.9"/><ellipse cx="3.2" cy="0" rx="2.3" ry="3.4" fill="#6B6E3A" stroke="#D8322A" stroke-width="1.3"/><ellipse cx="-3.4" cy="0" rx="1.4" ry="2.4" fill="#0C5C38"/></g>
<g transform="translate(1249.5 521.04) rotate(-25)"><ellipse cx="0" cy="0" rx="9" ry="5.8" fill="#EAF4F6" stroke="#1E5DA6" stroke-width="1.9"/><ellipse cx="3.2" cy="0" rx="2.3" ry="3.4" fill="#6B6E3A" stroke="#D8322A" stroke-width="1.3"/><ellipse cx="-3.4" cy="0" rx="1.4" ry="2.4" fill="#0C5C38"/></g>
<g transform="translate(1283.8 505.04) rotate(-25)"><ellipse cx="0" cy="0" rx="9" ry="5.8" fill="#EAF4F6" stroke="#1E5DA6" stroke-width="1.9"/><ellipse cx="3.2" cy="0" rx="2.3" ry="3.4" fill="#6B6E3A" stroke="#D8322A" stroke-width="1.3"/><ellipse cx="-3.4" cy="0" rx="1.4" ry="2.4" fill="#0C5C38"/></g>
<g transform="translate(1317.5 489.32) rotate(-25)"><ellipse cx="0" cy="0" rx="9" ry="5.8" fill="#EAF4F6" stroke="#1E5DA6" stroke-width="1.9"/><ellipse cx="3.2" cy="0" rx="2.3" ry="3.4" fill="#6B6E3A" stroke="#D8322A" stroke-width="1.3"/><ellipse cx="-3.4" cy="0" rx="1.4" ry="2.4" fill="#0C5C38"/></g>
<ellipse cx="1219.1" cy="534.2" rx="2.74" ry="3.8" fill="#7A7F50" stroke="#D8322A" stroke-width="1.2"/>
<g transform="translate(1408.4 373.27) rotate(-25)"><ellipse cx="0" cy="0" rx="9" ry="5.8" fill="#EAF4F6" stroke="#1E5DA6" stroke-width="1.9"/><ellipse cx="3.2" cy="0" rx="2.3" ry="3.4" fill="#6B6E3A" stroke="#D8322A" stroke-width="1.3"/><ellipse cx="-3.4" cy="0" rx="1.4" ry="2.4" fill="#0C5C38"/></g>
<g transform="translate(1439.5 358.76) rotate(-25)"><ellipse cx="0" cy="0" rx="9" ry="5.8" fill="#EAF4F6" stroke="#1E5DA6" stroke-width="1.9"/><ellipse cx="3.2" cy="0" rx="2.3" ry="3.4" fill="#6B6E3A" stroke="#D8322A" stroke-width="1.3"/><ellipse cx="-3.4" cy="0" rx="1.4" ry="2.4" fill="#0C5C38"/></g>
<g transform="translate(1473.4 342.95) rotate(-25)"><ellipse cx="0" cy="0" rx="9" ry="5.8" fill="#EAF4F6" stroke="#1E5DA6" stroke-width="1.9"/><ellipse cx="3.2" cy="0" rx="2.3" ry="3.4" fill="#6B6E3A" stroke="#D8322A" stroke-width="1.3"/><ellipse cx="-3.4" cy="0" rx="1.4" ry="2.4" fill="#0C5C38"/></g>
<ellipse cx="1374.5" cy="388.4" rx="2.74" ry="3.8" fill="#7A7F50" stroke="#D8322A" stroke-width="1.2"/>
<g transform="translate(1371.7 440.09) rotate(-25)"><ellipse cx="0" cy="0" rx="9" ry="5.8" fill="#EAF4F6" stroke="#1E5DA6" stroke-width="1.9"/><ellipse cx="3.2" cy="0" rx="2.3" ry="3.4" fill="#6B6E3A" stroke="#D8322A" stroke-width="1.3"/><ellipse cx="-3.4" cy="0" rx="1.4" ry="2.4" fill="#0C5C38"/></g>
<g transform="translate(1407 423.62) rotate(-25)"><ellipse cx="0" cy="0" rx="9" ry="5.8" fill="#EAF4F6" stroke="#1E5DA6" stroke-width="1.9"/><ellipse cx="3.2" cy="0" rx="2.3" ry="3.4" fill="#6B6E3A" stroke="#D8322A" stroke-width="1.3"/><ellipse cx="-3.4" cy="0" rx="1.4" ry="2.4" fill="#0C5C38"/></g>
<g transform="translate(1439.5 408.46) rotate(-25)"><ellipse cx="0" cy="0" rx="9" ry="5.8" fill="#EAF4F6" stroke="#1E5DA6" stroke-width="1.9"/><ellipse cx="3.2" cy="0" rx="2.3" ry="3.4" fill="#6B6E3A" stroke="#D8322A" stroke-width="1.3"/><ellipse cx="-3.4" cy="0" rx="1.4" ry="2.4" fill="#0C5C38"/></g>
<g transform="translate(1473.4 392.65) rotate(-25)"><ellipse cx="0" cy="0" rx="9" ry="5.8" fill="#EAF4F6" stroke="#1E5DA6" stroke-width="1.9"/><ellipse cx="3.2" cy="0" rx="2.3" ry="3.4" fill="#6B6E3A" stroke="#D8322A" stroke-width="1.3"/><ellipse cx="-3.4" cy="0" rx="1.4" ry="2.4" fill="#0C5C38"/></g>
<g transform="translate(1561.8 376) rotate(57)"><ellipse cx="0" cy="0" rx="10.5" ry="6.2" fill="#EAF4F6" stroke="#1E5DA6" stroke-width="1.9"/><ellipse cx="3.2" cy="0" rx="2.3" ry="3.4" fill="#6B6E3A" stroke="#D8322A" stroke-width="1.3"/><ellipse cx="-3.4" cy="0" rx="1.4" ry="2.4" fill="#0C5C38"/></g>
<g transform="translate(1597.4 360.5) rotate(57)"><ellipse cx="0" cy="0" rx="10.5" ry="6.2" fill="#EAF4F6" stroke="#1E5DA6" stroke-width="1.9"/><ellipse cx="3.2" cy="0" rx="2.3" ry="3.4" fill="#6B6E3A" stroke="#D8322A" stroke-width="1.3"/><ellipse cx="-3.4" cy="0" rx="1.4" ry="2.4" fill="#0C5C38"/></g>
<g transform="translate(1631.4 344.1) rotate(57)"><ellipse cx="0" cy="0" rx="10.5" ry="6.2" fill="#EAF4F6" stroke="#1E5DA6" stroke-width="1.9"/><ellipse cx="3.2" cy="0" rx="2.3" ry="3.4" fill="#6B6E3A" stroke="#D8322A" stroke-width="1.3"/><ellipse cx="-3.4" cy="0" rx="1.4" ry="2.4" fill="#0C5C38"/></g>
<g transform="translate(1664.8 328.6) rotate(57)"><ellipse cx="0" cy="0" rx="10.5" ry="6.2" fill="#EAF4F6" stroke="#1E5DA6" stroke-width="1.9"/><ellipse cx="3.2" cy="0" rx="2.3" ry="3.4" fill="#6B6E3A" stroke="#D8322A" stroke-width="1.3"/><ellipse cx="-3.4" cy="0" rx="1.4" ry="2.4" fill="#0C5C38"/></g>
<g transform="translate(1565.9 467.2) rotate(-60)"><ellipse cx="0" cy="0" rx="10.5" ry="6.2" fill="#EAF4F6" stroke="#1E5DA6" stroke-width="1.9"/><ellipse cx="3.2" cy="0" rx="2.3" ry="3.4" fill="#6B6E3A" stroke="#D8322A" stroke-width="1.3"/><ellipse cx="-3.4" cy="0" rx="1.4" ry="2.4" fill="#0C5C38"/></g>
<g transform="translate(1598.3 451.7) rotate(-60)"><ellipse cx="0" cy="0" rx="10.5" ry="6.2" fill="#EAF4F6" stroke="#1E5DA6" stroke-width="1.9"/><ellipse cx="3.2" cy="0" rx="2.3" ry="3.4" fill="#6B6E3A" stroke="#D8322A" stroke-width="1.3"/><ellipse cx="-3.4" cy="0" rx="1.4" ry="2.4" fill="#0C5C38"/></g>
<g transform="translate(1631.4 439.3) rotate(-60)"><ellipse cx="0" cy="0" rx="10.5" ry="6.2" fill="#EAF4F6" stroke="#1E5DA6" stroke-width="1.9"/><ellipse cx="3.2" cy="0" rx="2.3" ry="3.4" fill="#6B6E3A" stroke="#D8322A" stroke-width="1.3"/><ellipse cx="-3.4" cy="0" rx="1.4" ry="2.4" fill="#0C5C38"/></g>
<g transform="translate(1665.4 422.3) rotate(-60)"><ellipse cx="0" cy="0" rx="10.5" ry="6.2" fill="#EAF4F6" stroke="#1E5DA6" stroke-width="1.9"/><ellipse cx="3.2" cy="0" rx="2.3" ry="3.4" fill="#6B6E3A" stroke="#D8322A" stroke-width="1.3"/><ellipse cx="-3.4" cy="0" rx="1.4" ry="2.4" fill="#0C5C38"/></g>
<g transform="translate(1813.8 331.1) rotate(-62)"><ellipse cx="0" cy="0" rx="13.5" ry="6.5" fill="#EAF4F6" stroke="#1E5DA6" stroke-width="1.9"/><ellipse cx="-3.2" cy="0" rx="2.3" ry="3.4" fill="#6B6E3A" stroke="#D8322A" stroke-width="1.3"/><ellipse cx="3.4" cy="0" rx="1.4" ry="2.4" fill="#0C5C38"/></g>
<g transform="translate(1817 476.5) rotate(-25)"><ellipse cx="0" cy="0" rx="11" ry="6.8" fill="#EAF4F6" stroke="#1E5DA6" stroke-width="1.9"/><ellipse cx="-3.2" cy="0" rx="2.3" ry="3.4" fill="#6B6E3A" stroke="#D8322A" stroke-width="1.3"/><ellipse cx="3.4" cy="0" rx="1.4" ry="2.4" fill="#0C5C38"/></g>
<ellipse cx="1847.9" cy="321.8" rx="2.74" ry="3.8" fill="#7A7F50" stroke="#D8322A" stroke-width="1.2"/>
<ellipse cx="1878.8" cy="307.9" rx="2.74" ry="3.8" fill="#7A7F50" stroke="#D8322A" stroke-width="1.2"/>
<ellipse cx="1903.5" cy="295.6" rx="2.74" ry="3.8" fill="#7A7F50" stroke="#D8322A" stroke-width="1.2"/>
<ellipse cx="1847.9" cy="461.6" rx="2.74" ry="3.8" fill="#7A7F50" stroke="#D8322A" stroke-width="1.2"/>
<ellipse cx="1878.8" cy="447.1" rx="2.74" ry="3.8" fill="#7A7F50" stroke="#D8322A" stroke-width="1.2"/>
<ellipse cx="1904.5" cy="435.3" rx="2.74" ry="3.8" fill="#7A7F50" stroke="#D8322A" stroke-width="1.2"/>
<ellipse cx="2054.6" cy="182.5" rx="2.74" ry="3.8" fill="#7A7F50" stroke="#D8322A" stroke-width="1.2"/>
<ellipse cx="2054.6" cy="192.5" rx="2.74" ry="3.8" fill="#7A7F50" stroke="#D8322A" stroke-width="1.2"/>
<ellipse cx="2087.9" cy="167.1" rx="2.74" ry="3.8" fill="#7A7F50" stroke="#D8322A" stroke-width="1.2"/>
<ellipse cx="2087.9" cy="177.1" rx="2.74" ry="3.8" fill="#7A7F50" stroke="#D8322A" stroke-width="1.2"/>
<ellipse cx="2119.3" cy="152.8" rx="2.74" ry="3.8" fill="#7A7F50" stroke="#D8322A" stroke-width="1.2"/>
<ellipse cx="2119.3" cy="162.8" rx="2.74" ry="3.8" fill="#7A7F50" stroke="#D8322A" stroke-width="1.2"/>
<ellipse cx="2145" cy="140.2" rx="2.74" ry="3.8" fill="#7A7F50" stroke="#D8322A" stroke-width="1.2"/>
<ellipse cx="2145" cy="150.2" rx="2.74" ry="3.8" fill="#7A7F50" stroke="#D8322A" stroke-width="1.2"/>
<path d="M1155 442 C1200 440 1240 430 1280 412" fill="none" stroke="#F2AAA4" stroke-width="2.3" opacity="0.6" marker-end="url(#ahl)"/>
<path d="M1121 458 C1170 458 1230 440 1316 392" fill="none" stroke="#F2AAA4" stroke-width="2.3" opacity="0.6" marker-end="url(#ahl)"/>
<path d="M1189 427 C1230 425 1280 410 1318 398" fill="none" stroke="#F2AAA4" stroke-width="2.3" opacity="0.6" marker-end="url(#ahl)"/>
<path d="M1121 507 C1170 512 1230 520 1280 505" fill="none" stroke="#F2AAA4" stroke-width="2.3" opacity="0.6" marker-end="url(#ahl)"/>
<path d="M1155 491 C1190 492 1250 495 1316 490" fill="none" stroke="#F2AAA4" stroke-width="2.3" opacity="0.6" marker-end="url(#ahl)"/>
<path d="M1189 476 C1230 478 1280 484 1317 490" fill="none" stroke="#F2AAA4" stroke-width="2.3" opacity="0.6" marker-end="url(#ahl)"/>
<path d="M1250 421 C1300 410 1340 395 1405 373" fill="none" stroke="#F2AAA4" stroke-width="2.3" opacity="0.6" marker-end="url(#ahl)"/>
<path d="M1283 406 C1330 400 1380 380 1438 358" fill="none" stroke="#F2AAA4" stroke-width="2.3" opacity="0.6" marker-end="url(#ahl)"/>
<path d="M1317 390 C1360 385 1420 360 1472 343" fill="none" stroke="#F2AAA4" stroke-width="2.3" opacity="0.6" marker-end="url(#ahl)"/>
<path d="M1250 519 C1300 500 1360 470 1405 424" fill="none" stroke="#F2AAA4" stroke-width="2.3" opacity="0.6" marker-end="url(#ahl)"/>
<path d="M1284 504 C1340 490 1400 460 1438 408" fill="none" stroke="#F2AAA4" stroke-width="2.3" opacity="0.6" marker-end="url(#ahl)"/>
<path d="M1317 488 C1370 480 1440 440 1472 391" fill="none" stroke="#F2AAA4" stroke-width="2.3" opacity="0.6" marker-end="url(#ahl)"/>
<path d="M1408 373 C1470 365 1520 360 1597 360" fill="none" stroke="#F2AAA4" stroke-width="2.3" opacity="0.6" marker-end="url(#ahl)"/>
<path d="M1440 358 C1500 352 1560 345 1631 344" fill="none" stroke="#F2AAA4" stroke-width="2.3" opacity="0.6" marker-end="url(#ahl)"/>
<path d="M1473 342 C1540 335 1600 330 1664 329" fill="none" stroke="#F2AAA4" stroke-width="2.3" opacity="0.6" marker-end="url(#ahl)"/>
<path d="M1407 424 C1460 440 1530 450 1598 452" fill="none" stroke="#F2AAA4" stroke-width="2.3" opacity="0.6" marker-end="url(#ahl)"/>
<path d="M1440 407 C1500 420 1570 435 1631 439" fill="none" stroke="#F2AAA4" stroke-width="2.3" opacity="0.6" marker-end="url(#ahl)"/>
<path d="M1473 390 C1540 400 1600 415 1665 422" fill="none" stroke="#F2AAA4" stroke-width="2.3" opacity="0.6" marker-end="url(#ahl)"/>
<path d="M1597 360 C1680 350 1780 330 1847 322" fill="none" stroke="#F2AAA4" stroke-width="2.3" opacity="0.6" marker-end="url(#ahl)"/>
<path d="M1631 344 C1700 335 1800 315 1878 308" fill="none" stroke="#F2AAA4" stroke-width="2.3" opacity="0.6" marker-end="url(#ahl)"/>
<path d="M1664 329 C1740 318 1840 300 1903 296" fill="none" stroke="#F2AAA4" stroke-width="2.3" opacity="0.6" marker-end="url(#ahl)"/>
<path d="M1598 452 C1680 460 1780 465 1847 462" fill="none" stroke="#F2AAA4" stroke-width="2.3" opacity="0.6" marker-end="url(#ahl)"/>
<path d="M1631 439 C1700 445 1800 450 1878 447" fill="none" stroke="#F2AAA4" stroke-width="2.3" opacity="0.6" marker-end="url(#ahl)"/>
<path d="M1665 422 C1740 430 1840 437 1904 435" fill="none" stroke="#F2AAA4" stroke-width="2.3" opacity="0.6" marker-end="url(#ahl)"/>
<path d="M1848 322 C1920 300 2000 210 2087 168" fill="none" stroke="#F2AAA4" stroke-width="2.3" opacity="0.6" marker-end="url(#ahl)"/>
<path d="M1879 308 C1960 280 2040 200 2119 153" fill="none" stroke="#F2AAA4" stroke-width="2.3" opacity="0.6" marker-end="url(#ahl)"/>
<path d="M1904 296 C1990 270 2080 190 2145 141" fill="none" stroke="#F2AAA4" stroke-width="2.3" opacity="0.6" marker-end="url(#ahl)"/>
<path d="M1848 462 C1940 420 2030 280 2087 178" fill="none" stroke="#F2AAA4" stroke-width="2.3" opacity="0.6" marker-end="url(#ahl)"/>
<path d="M1879 447 C1970 400 2060 270 2119 163" fill="none" stroke="#F2AAA4" stroke-width="2.3" opacity="0.6" marker-end="url(#ahl)"/>
<path d="M1904 435 C1990 400 2090 260 2145 151" fill="none" stroke="#F2AAA4" stroke-width="2.3" opacity="0.6" marker-end="url(#ahl)"/>
<path d="M1086 474 C1130 490 1180 470 1213 438" fill="none" stroke="#E8665E" stroke-width="2.6" marker-end="url(#ah)"/>
<path d="M1088 523 C1130 526 1180 530 1216 534" fill="none" stroke="#E8665E" stroke-width="2.6" marker-end="url(#ah)"/>
<path d="M1219 534 C1280 540 1340 520 1370 442" fill="none" stroke="#E8665E" stroke-width="2.6" marker-end="url(#ah)"/>
<path d="M1216 436 C1270 440 1330 420 1371 390" fill="none" stroke="#E8665E" stroke-width="2.6" marker-end="url(#ah)"/>
<path d="M1375 388 C1430 385 1500 380 1559 377" fill="none" stroke="#E8665E" stroke-width="2.6" marker-end="url(#ah)"/>
<path d="M1372 440 C1420 460 1500 475 1563 468" fill="none" stroke="#E8665E" stroke-width="2.6" marker-end="url(#ah)"/>
<path d="M1562 376 C1650 370 1740 350 1811 333" fill="none" stroke="#E8665E" stroke-width="2.6" marker-end="url(#ah)"/>
<path d="M1566 467 C1600 480 1700 500 1814 478" fill="none" stroke="#E8665E" stroke-width="2.6" marker-end="url(#ah)"/>
<path d="M1814 331 C1900 300 2000 260 2052 184" fill="none" stroke="#E8665E" stroke-width="2.6" marker-end="url(#ah)"/>
<path d="M1817 476 C1900 430 2000 330 2052 195" fill="none" stroke="#E8665E" stroke-width="2.6" marker-end="url(#ah)"/>
<path d="M1051.4 379 L1200.7 309.8 L1200.7 478 L1051.4 547.2 Z" fill="none" stroke="#222" stroke-width="1.35" stroke-linejoin="miter"/>
<path d="M1208 379.9 L1357 310.4 L1357 476.5 L1208 547.2 Z" fill="none" stroke="#222" stroke-width="1.35" stroke-linejoin="miter"/>
<path d="M1364.6 379.9 L1513.6 310.4 L1513.6 478 L1364.6 547.2 Z" fill="none" stroke="#222" stroke-width="1.35" stroke-linejoin="miter"/>
<path d="M1522.3 379 L1673.2 309.5 L1674 478 L1522.3 547.6 Z" fill="none" stroke="#222" stroke-width="1.35" stroke-linejoin="miter"/>
<path d="M1680.3 378.4 L1910.6 272.4 L1911 442.4 L1680.3 547.6 Z" fill="none" stroke="#222" stroke-width="1.35" stroke-linejoin="miter"/>
<path d="M1920 234.8 L2151.8 127 L2151.8 440.8 L1921 547 Z" fill="none" stroke="#222" stroke-width="1.35" stroke-linejoin="miter"/>
</svg>
</body></html>
